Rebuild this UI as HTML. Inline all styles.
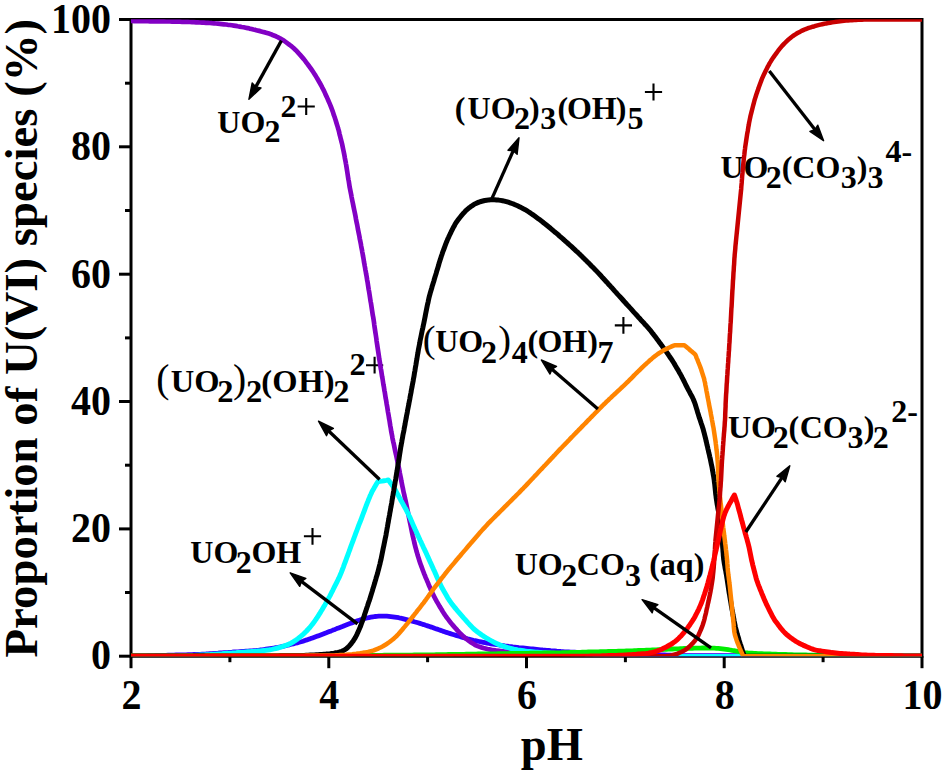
<!DOCTYPE html>
<html><head><meta charset="utf-8"><title>U(VI) speciation</title>
<style>html,body{margin:0;padding:0;background:#fff;}svg{display:block;font-family:"Liberation Serif",serif;}</style>
</head><body>
<svg width="945" height="774" viewBox="0 0 945 774">
<defs><clipPath id="plot"><rect x="131" y="19.3" width="791" height="637.0"/></clipPath></defs>
<rect width="945" height="774" fill="#fff"/>
<g stroke="#000" stroke-width="3" fill="none" stroke-linecap="square">
<path d="M131.0 19.5 H922.0 V656.2 H131.0 Z"/>
<line x1="119.0" y1="656.2" x2="131.0" y2="656.2" stroke-linecap="butt"/>
<line x1="125.0" y1="592.5" x2="131.0" y2="592.5" stroke-linecap="butt"/>
<line x1="119.0" y1="528.9" x2="131.0" y2="528.9" stroke-linecap="butt"/>
<line x1="125.0" y1="465.2" x2="131.0" y2="465.2" stroke-linecap="butt"/>
<line x1="119.0" y1="401.5" x2="131.0" y2="401.5" stroke-linecap="butt"/>
<line x1="125.0" y1="337.9" x2="131.0" y2="337.9" stroke-linecap="butt"/>
<line x1="119.0" y1="274.2" x2="131.0" y2="274.2" stroke-linecap="butt"/>
<line x1="125.0" y1="210.5" x2="131.0" y2="210.5" stroke-linecap="butt"/>
<line x1="119.0" y1="146.8" x2="131.0" y2="146.8" stroke-linecap="butt"/>
<line x1="125.0" y1="83.2" x2="131.0" y2="83.2" stroke-linecap="butt"/>
<line x1="119.0" y1="19.5" x2="131.0" y2="19.5" stroke-linecap="butt"/>
<line x1="131.0" y1="656.2" x2="131.0" y2="668.2" stroke-linecap="butt"/>
<line x1="229.9" y1="656.2" x2="229.9" y2="662.2" stroke-linecap="butt"/>
<line x1="328.8" y1="656.2" x2="328.8" y2="668.2" stroke-linecap="butt"/>
<line x1="427.6" y1="656.2" x2="427.6" y2="662.2" stroke-linecap="butt"/>
<line x1="526.5" y1="656.2" x2="526.5" y2="668.2" stroke-linecap="butt"/>
<line x1="625.4" y1="656.2" x2="625.4" y2="662.2" stroke-linecap="butt"/>
<line x1="724.2" y1="656.2" x2="724.2" y2="668.2" stroke-linecap="butt"/>
<line x1="823.1" y1="656.2" x2="823.1" y2="662.2" stroke-linecap="butt"/>
<line x1="922.0" y1="656.2" x2="922.0" y2="668.2" stroke-linecap="butt"/>
</g>
<g font-family="Liberation Serif" font-weight="bold" fill="#000">
<text x="217.30" y="133.30" font-size="32.00">UO</text><text x="264.56" y="141.80" font-size="32.00">2</text><text x="280.46" y="117.30" font-size="32.00">2</text><path d="M297.6 106.5 h17.2 M306.2 98.1 v16.8" stroke="#000" stroke-width="2.1" fill="none"/>
<text x="156.36" y="391.60" font-size="39.65" font-weight="normal">(</text><text x="170.69" y="391.60" font-size="32.50">UO</text><text x="217.14" y="402.10" font-size="32.50">2</text><text x="233.12" y="391.60" font-size="39.65" font-weight="normal">)</text><text x="246.04" y="402.10" font-size="32.50">2</text><text x="261.37" y="391.60" font-size="32.50">(</text><text x="272.31" y="391.60" font-size="32.50">O</text><text x="298.14" y="391.60" font-size="32.50">H</text><text x="323.65" y="391.60" font-size="32.50">)</text><text x="333.34" y="402.10" font-size="32.50">2</text><text x="349.44" y="375.00" font-size="32.50">2</text><path d="M366.0 365.2 h17.2 M374.6 356.8 v16.8" stroke="#000" stroke-width="2.1" fill="none"/>
<text x="190.30" y="562.90" font-size="32.00">UO</text><text x="235.76" y="573.20" font-size="32.00">2</text><text x="251.44" y="562.90" font-size="32.00">OH</text><path d="M303.9 536.3 h17.2 M312.5 527.9 v16.8" stroke="#000" stroke-width="2.1" fill="none"/>
<text x="454.79" y="118.60" font-size="32.00">(</text><text x="467.60" y="118.60" font-size="32.00">UO</text><text x="514.06" y="128.80" font-size="32.00">2</text><text x="528.97" y="118.60" font-size="32.00">)</text><text x="540.20" y="128.80" font-size="32.00">3</text><text x="557.59" y="118.60" font-size="32.00">(</text><text x="567.04" y="118.60" font-size="32.00">O</text><text x="591.65" y="118.60" font-size="32.00">H</text><text x="615.77" y="118.60" font-size="32.00">)</text><text x="627.62" y="128.80" font-size="32.00">5</text><path d="M644.9 92.0 h17.2 M653.5 83.6 v16.8" stroke="#000" stroke-width="2.1" fill="none"/>
<text x="422.81" y="351.90" font-size="38.40" font-weight="normal">(</text><text x="435.20" y="351.90" font-size="32.00">UO</text><text x="481.06" y="362.70" font-size="32.00">2</text><text x="498.16" y="351.90" font-size="38.40" font-weight="normal">)</text><text x="511.66" y="362.70" font-size="32.00">4</text><text x="527.59" y="351.90" font-size="32.00">(</text><text x="537.44" y="351.90" font-size="32.00">O</text><text x="562.35" y="351.90" font-size="32.00">H</text><text x="587.27" y="351.90" font-size="32.00">)</text><text x="597.57" y="362.70" font-size="32.00">7</text><path d="M614.8 325.4 h17.2 M623.4 317.0 v16.8" stroke="#000" stroke-width="2.1" fill="none"/>
<text x="514.70" y="575.00" font-size="32.00">UO</text><text x="561.36" y="586.10" font-size="32.00">2</text><text x="576.84" y="575.00" font-size="32.00">CO</text><text x="624.90" y="586.10" font-size="32.00">3</text><text x="649.19" y="575.00" font-size="32.00">(</text><text x="659.85" y="575.00" font-size="32.00">aq</text><text x="693.65" y="575.00" font-size="32.00">)</text>
<text x="727.90" y="437.60" font-size="32.00">UO</text><text x="772.86" y="448.10" font-size="32.00">2</text><text x="788.59" y="437.60" font-size="32.00">(</text><text x="799.64" y="437.60" font-size="32.00">CO</text><text x="847.60" y="448.10" font-size="32.00">3</text><text x="863.67" y="437.60" font-size="32.00">)</text><text x="872.66" y="448.10" font-size="32.00">2</text><text x="891.16" y="421.80" font-size="32.00">2-</text>
<text x="720.50" y="178.20" font-size="32.00">UO</text><text x="765.76" y="188.40" font-size="32.00">2</text><text x="781.69" y="178.20" font-size="32.00">(</text><text x="792.35" y="178.20" font-size="32.00">CO</text><text x="840.80" y="188.40" font-size="32.00">3</text><text x="856.80" y="178.20" font-size="32.00">)</text><text x="867.50" y="188.40" font-size="32.00">3</text><text x="885.46" y="162.30" font-size="32.00">4-</text>
</g>
<g fill="none" stroke-linejoin="round" stroke-linecap="round" clip-path="url(#plot)">
<path d="M130.0 656.2 L132.0 656.1 L134.0 656.1 L136.0 656.0 L138.0 656.0 L140.0 655.9 L142.0 655.9 L144.0 655.8 L146.0 655.8 L148.0 655.7 L150.0 655.7 L152.0 655.6 L154.0 655.6 L156.0 655.5 L158.0 655.5 L160.0 655.4 L162.0 655.4 L164.0 655.3 L166.0 655.3 L168.0 655.2 L170.0 655.2 L172.0 655.1 L174.0 655.1 L176.0 655.0 L178.0 655.0 L180.0 654.9 L182.0 654.9 L184.0 654.8 L186.0 654.8 L188.0 654.7 L190.0 654.7 L192.1 654.6 L194.1 654.5 L196.1 654.5 L198.1 654.4 L200.1 654.3 L202.1 654.2 L204.1 654.1 L206.0 654.0 L208.0 653.8 L210.0 653.7 L212.0 653.6 L214.0 653.4 L216.0 653.3 L218.0 653.2 L220.0 653.0 L222.0 652.9 L224.0 652.7 L226.0 652.6 L228.0 652.5 L230.0 652.3 L232.0 652.2 L234.0 652.0 L236.0 651.9 L238.0 651.8 L240.0 651.6 L242.0 651.5 L244.0 651.4 L246.0 651.2 L248.0 651.1 L250.0 650.9 L252.0 650.8 L254.0 650.6 L256.0 650.5 L258.0 650.3 L260.0 650.0 L261.9 649.8 L263.9 649.5 L265.9 649.2 L267.9 648.9 L269.9 648.6 L271.8 648.3 L273.8 648.0 L275.8 647.7 L277.8 647.4 L279.7 647.0 L281.7 646.6 L283.7 646.2 L285.6 645.7 L287.6 645.2 L289.5 644.8 L291.4 644.3 L293.4 643.8 L295.3 643.3 L297.3 642.8 L299.2 642.3 L301.1 641.8 L303.0 641.2 L304.9 640.5 L306.8 639.9 L308.7 639.2 L310.6 638.6 L312.5 637.9 L314.4 637.2 L316.3 636.5 L318.1 635.9 L320.0 635.2 L321.9 634.5 L323.8 633.8 L325.6 633.1 L327.5 632.3 L329.4 631.6 L331.2 630.9 L333.1 630.1 L335.0 629.4 L336.8 628.6 L338.7 627.9 L340.5 627.2 L342.4 626.5 L344.3 625.7 L346.1 625.0 L348.0 624.3 L349.9 623.6 L351.8 622.9 L353.6 622.2 L355.5 621.5 L357.4 620.8 L359.3 620.2 L361.2 619.6 L363.1 619.0 L365.0 618.5 L367.0 618.0 L368.9 617.6 L370.9 617.2 L372.9 616.8 L374.8 616.5 L376.8 616.3 L378.8 616.2 L380.8 616.1 L382.8 616.1 L384.8 616.1 L386.8 616.2 L388.8 616.4 L390.8 616.6 L392.8 616.8 L394.7 617.1 L396.7 617.4 L398.7 617.7 L400.6 618.2 L402.6 618.6 L404.5 619.1 L406.5 619.6 L408.4 620.1 L410.3 620.6 L412.3 621.1 L414.2 621.7 L416.1 622.2 L418.0 622.8 L419.9 623.4 L421.8 624.0 L423.7 624.6 L425.7 625.3 L427.6 625.9 L429.5 626.5 L431.3 627.1 L433.2 627.8 L435.1 628.5 L437.0 629.1 L438.9 629.8 L440.8 630.4 L442.7 631.1 L444.6 631.7 L446.5 632.4 L448.4 633.0 L450.3 633.6 L452.2 634.2 L454.1 634.8 L456.0 635.4 L458.0 636.0 L459.9 636.5 L461.8 637.1 L463.7 637.7 L465.6 638.2 L467.6 638.8 L469.5 639.3 L471.4 639.8 L473.4 640.3 L475.3 640.7 L477.3 641.1 L479.2 641.5 L481.2 641.9 L483.2 642.3 L485.1 642.7 L487.1 643.1 L489.1 643.5 L491.0 643.8 L493.0 644.1 L495.0 644.4 L497.0 644.7 L499.0 645.0 L500.9 645.3 L502.9 645.6 L504.9 645.9 L506.9 646.1 L508.9 646.4 L510.9 646.6 L512.8 646.9 L514.8 647.1 L516.8 647.3 L518.8 647.6 L520.8 647.8 L522.8 648.0 L524.8 648.2 L526.8 648.4 L528.8 648.6 L530.8 648.8 L532.8 649.0 L534.7 649.2 L536.7 649.4 L538.7 649.6 L540.7 649.8 L542.7 650.0 L544.7 650.1 L546.7 650.3 L548.7 650.5 L550.7 650.7 L552.7 650.8 L554.7 651.0 L556.7 651.2 L558.7 651.3 L560.7 651.5 L562.7 651.6 L564.7 651.8 L566.7 651.9 L568.7 652.0 L570.7 652.1 L572.7 652.1 L574.7 652.2 L576.7 652.3 L578.7 652.4 L580.7 652.5 L582.7 652.5 L584.7 652.6 L586.7 652.7 L588.7 652.8 L590.7 652.8 L592.7 652.9 L594.7 653.0 L596.7 653.1 L598.7 653.2 L600.7 653.2 L602.7 653.3 L604.7 653.4 L606.7 653.5 L608.7 653.6 L610.7 653.6 L612.7 653.7 L614.7 653.8 L616.7 653.9 L618.7 653.9 L620.7 654.0 L622.7 654.0 L624.7 654.1 L626.7 654.1 L628.7 654.2 L630.7 654.2 L632.7 654.3 L634.7 654.3 L636.7 654.3 L638.7 654.4 L640.7 654.4 L642.7 654.5 L644.7 654.5 L646.7 654.5 L648.7 654.6 L650.7 654.6 L652.7 654.7 L654.7 654.7 L656.7 654.7 L658.7 654.8 L660.7 654.9 L662.7 654.9 L664.7 655.0 L666.7 655.1 L668.7 655.1 L670.7 655.2 L672.7 655.3 L674.7 655.4 L676.7 655.5 L678.7 655.5 L680.7 655.5 L682.7 655.6 L684.7 655.6 L686.7 655.6 L688.7 655.6 L690.7 655.6 L692.7 655.6 L694.7 655.6 L696.7 655.6 L698.7 655.6 L700.8 655.6 L702.8 655.6 L704.8 655.6 L706.8 655.6 L708.8 655.6 L710.8 655.6 L712.8 655.6 L714.8 655.6 L716.8 655.6 L718.8 655.6 L720.8 655.6 L722.8 655.6 L724.8 655.6 L726.8 655.6 L728.8 655.6 L730.8 655.6 L732.8 655.6 L734.8 655.6 L736.8 655.6 L738.8 655.6 L740.8 655.6 L742.8 655.6 L744.8 655.6 L746.8 655.6 L748.8 655.7 L750.8 655.7 L752.8 655.7 L754.8 655.7 L756.8 655.8 L758.8 655.8 L760.8 655.8 L762.8 655.8 L764.8 655.9 L766.8 655.9 L768.8 655.9 L770.8 655.9 L772.8 656.0 L774.8 656.0 L776.8 656.0 L778.8 656.1 L780.8 656.1 L782.8 656.1 L784.8 656.1 L786.8 656.2 L788.8 656.2 L790.9 656.2 L792.9 656.2 L794.9 656.2 L796.9 656.2 L798.9 656.2 L800.9 656.2 L802.9 656.2 L804.9 656.2 L806.9 656.2 L808.9 656.2 L810.9 656.2 L812.9 656.2 L814.9 656.2 L816.9 656.2 L818.9 656.2 L820.9 656.2 L822.9 656.2 L824.9 656.2 L826.9 656.2 L828.9 656.2 L830.9 656.2 L832.9 656.2 L834.9 656.2 L836.9 656.2 L838.9 656.2 L840.9 656.2 L842.9 656.2 L844.9 656.2 L846.9 656.2 L848.9 656.2 L850.9 656.2 L852.9 656.2 L854.9 656.2 L856.9 656.2 L858.9 656.2 L860.9 656.2 L862.9 656.2 L864.9 656.2 L866.9 656.2 L868.9 656.2 L870.9 656.2 L872.9 656.2 L874.9 656.2 L876.9 656.2 L879.0 656.2 L881.0 656.2 L883.0 656.2 L885.0 656.2 L887.0 656.2 L889.0 656.2 L891.0 656.2 L893.0 656.2 L895.0 656.2 L897.0 656.2 L899.0 656.2 L901.0 656.2 L903.0 656.2 L905.0 656.2 L907.0 656.2 L909.0 656.2 L911.0 656.2 L913.0 656.2 L915.0 656.2 L917.0 656.2 L919.0 656.2 L921.0 656.2" stroke="#3000ff" stroke-width="4.8"/>
<path d="M130.0 21.0 L132.0 21.0 L134.0 21.1 L136.0 21.1 L138.0 21.1 L140.0 21.1 L142.0 21.2 L144.0 21.2 L146.0 21.2 L148.0 21.2 L150.0 21.3 L152.0 21.3 L154.0 21.3 L156.0 21.3 L158.0 21.4 L160.0 21.4 L162.0 21.4 L164.0 21.4 L166.0 21.5 L168.0 21.5 L170.0 21.5 L172.0 21.6 L174.0 21.6 L176.0 21.6 L178.0 21.7 L180.0 21.7 L182.0 21.8 L184.0 21.8 L186.0 21.9 L188.0 21.9 L190.0 22.0 L192.0 22.1 L194.0 22.2 L196.0 22.3 L198.0 22.4 L200.0 22.5 L202.0 22.6 L204.0 22.7 L206.0 22.8 L208.0 22.9 L210.0 23.0 L212.0 23.2 L214.0 23.3 L216.0 23.5 L217.9 23.7 L219.9 23.9 L221.9 24.1 L223.9 24.3 L225.9 24.5 L227.9 24.8 L229.9 25.0 L231.8 25.3 L233.8 25.6 L235.8 25.9 L237.8 26.3 L239.7 26.6 L241.7 27.0 L243.7 27.3 L245.6 27.7 L247.6 28.1 L249.5 28.6 L251.5 29.0 L253.4 29.5 L255.4 29.9 L257.3 30.4 L259.3 30.9 L261.2 31.4 L263.1 31.9 L265.1 32.4 L267.0 33.0 L268.9 33.6 L270.8 34.2 L272.6 35.0 L274.5 35.7 L276.3 36.5 L278.1 37.4 L279.9 38.3 L281.6 39.3 L283.3 40.3 L284.9 41.4 L286.6 42.6 L288.2 43.8 L289.8 45.0 L291.3 46.2 L292.9 47.5 L294.3 48.8 L295.8 50.2 L297.2 51.7 L298.5 53.1 L299.9 54.6 L301.2 56.1 L302.5 57.6 L303.8 59.1 L305.0 60.7 L306.2 62.3 L307.4 63.9 L308.6 65.5 L309.8 67.1 L310.9 68.7 L312.1 70.4 L313.2 72.0 L314.3 73.7 L315.4 75.4 L316.4 77.1 L317.4 78.8 L318.4 80.5 L319.4 82.3 L320.4 84.0 L321.4 85.8 L322.3 87.6 L323.2 89.3 L324.1 91.1 L324.9 92.9 L325.7 94.8 L326.6 96.6 L327.4 98.4 L328.2 100.2 L329.0 102.1 L329.8 103.9 L330.6 105.8 L331.3 107.6 L332.0 109.5 L332.7 111.4 L333.3 113.3 L333.9 115.2 L334.6 117.0 L335.2 118.9 L335.8 120.8 L336.4 122.8 L337.0 124.7 L337.6 126.6 L338.1 128.5 L338.7 130.4 L339.2 132.4 L339.6 134.3 L340.1 136.2 L340.6 138.2 L341.1 140.1 L341.6 142.1 L342.1 144.0 L342.5 146.0 L342.9 147.9 L343.3 149.9 L343.7 151.8 L344.1 153.8 L344.5 155.8 L344.8 157.7 L345.2 159.7 L345.6 161.7 L345.9 163.6 L346.3 165.6 L346.6 167.6 L346.9 169.6 L347.2 171.5 L347.5 173.5 L347.8 175.5 L348.1 177.5 L348.4 179.4 L348.8 181.4 L349.1 183.4 L349.4 185.4 L349.7 187.3 L350.1 189.3 L350.5 191.3 L350.9 193.2 L351.3 195.2 L351.6 197.1 L352.0 199.1 L352.4 201.1 L352.8 203.0 L353.2 205.0 L353.6 207.0 L354.0 208.9 L354.4 210.9 L354.8 212.8 L355.2 214.8 L355.6 216.8 L355.9 218.7 L356.3 220.7 L356.7 222.7 L357.1 224.6 L357.5 226.6 L357.8 228.5 L358.2 230.5 L358.6 232.5 L359.0 234.4 L359.4 236.4 L359.7 238.4 L360.1 240.3 L360.5 242.3 L360.9 244.3 L361.2 246.2 L361.6 248.2 L362.0 250.2 L362.3 252.1 L362.7 254.1 L363.0 256.1 L363.4 258.0 L363.7 260.0 L364.0 262.0 L364.4 263.9 L364.7 265.9 L365.1 267.9 L365.4 269.9 L365.8 271.8 L366.1 273.8 L366.5 275.8 L366.8 277.7 L367.1 279.7 L367.5 281.7 L367.8 283.7 L368.1 285.6 L368.4 287.6 L368.7 289.6 L369.1 291.6 L369.4 293.5 L369.7 295.5 L370.0 297.5 L370.3 299.5 L370.6 301.4 L371.0 303.4 L371.3 305.4 L371.6 307.4 L371.9 309.3 L372.2 311.3 L372.5 313.3 L372.8 315.3 L373.2 317.2 L373.5 319.2 L373.8 321.2 L374.1 323.2 L374.3 325.1 L374.6 327.1 L374.9 329.1 L375.2 331.1 L375.5 333.1 L375.8 335.0 L376.1 337.0 L376.4 339.0 L376.6 341.0 L376.9 343.0 L377.2 344.9 L377.5 346.9 L377.8 348.9 L378.1 350.9 L378.4 352.9 L378.7 354.8 L379.0 356.8 L379.2 358.8 L379.6 360.8 L379.9 362.7 L380.2 364.7 L380.5 366.7 L380.8 368.7 L381.2 370.6 L381.5 372.6 L381.8 374.6 L382.1 376.6 L382.5 378.5 L382.8 380.5 L383.1 382.5 L383.4 384.5 L383.8 386.4 L384.1 388.4 L384.4 390.4 L384.8 392.3 L385.1 394.3 L385.4 396.3 L385.7 398.3 L386.1 400.2 L386.4 402.2 L386.7 404.2 L387.1 406.2 L387.4 408.1 L387.7 410.1 L388.0 412.1 L388.4 414.1 L388.7 416.0 L389.0 418.0 L389.4 420.0 L389.7 421.9 L390.0 423.9 L390.3 425.9 L390.7 427.9 L391.0 429.8 L391.3 431.8 L391.7 433.8 L392.1 435.7 L392.4 437.7 L392.8 439.7 L393.2 441.6 L393.7 443.6 L394.1 445.5 L394.5 447.5 L394.9 449.5 L395.3 451.4 L395.7 453.4 L396.2 455.3 L396.6 457.3 L397.0 459.2 L397.4 461.2 L397.8 463.1 L398.2 465.1 L398.7 467.1 L399.1 469.0 L399.5 471.0 L399.8 472.9 L400.2 474.9 L400.6 476.9 L401.0 478.8 L401.3 480.8 L401.7 482.8 L402.1 484.7 L402.5 486.7 L402.9 488.6 L403.3 490.6 L403.7 492.6 L404.2 494.5 L404.6 496.5 L405.0 498.4 L405.5 500.4 L405.9 502.3 L406.3 504.3 L406.7 506.2 L407.1 508.2 L407.5 510.2 L407.9 512.1 L408.3 514.1 L408.7 516.0 L409.1 518.0 L409.5 520.0 L409.9 521.9 L410.3 523.9 L410.7 525.8 L411.1 527.8 L411.5 529.8 L411.9 531.7 L412.3 533.7 L412.7 535.6 L413.2 537.6 L413.6 539.5 L414.1 541.5 L414.5 543.4 L415.0 545.4 L415.5 547.3 L416.0 549.2 L416.5 551.2 L417.1 553.1 L417.6 555.0 L418.2 556.9 L418.8 558.8 L419.4 560.7 L420.0 562.6 L420.7 564.5 L421.4 566.4 L422.1 568.3 L422.8 570.2 L423.5 572.0 L424.2 573.9 L425.0 575.7 L425.7 577.6 L426.5 579.4 L427.3 581.3 L428.1 583.1 L428.8 585.0 L429.6 586.8 L430.4 588.6 L431.2 590.5 L432.1 592.3 L432.9 594.1 L433.8 595.9 L434.7 597.7 L435.6 599.4 L436.6 601.2 L437.6 602.9 L438.6 604.6 L439.6 606.4 L440.7 608.1 L441.7 609.8 L442.7 611.5 L443.8 613.2 L444.9 614.9 L446.0 616.5 L447.2 618.1 L448.4 619.7 L449.6 621.3 L450.9 622.9 L452.1 624.4 L453.4 625.9 L454.7 627.4 L456.1 628.9 L457.4 630.4 L458.8 631.9 L460.2 633.3 L461.6 634.7 L463.0 636.1 L464.5 637.4 L466.0 638.7 L467.6 639.9 L469.2 641.1 L470.8 642.2 L472.5 643.3 L474.2 644.4 L475.9 645.3 L477.7 646.1 L479.6 646.8 L481.5 647.4 L483.4 648.0 L485.3 648.5 L487.3 649.0 L489.2 649.4 L491.1 649.8 L493.1 650.2 L495.1 650.4 L497.1 650.7 L499.1 650.9 L501.1 651.1 L503.0 651.3 L505.0 651.5 L507.0 651.6 L509.0 651.8 L511.0 651.9 L513.0 652.0 L515.0 652.1 L517.0 652.1 L519.0 652.2 L521.0 652.3 L523.0 652.3 L525.0 652.4 L527.0 652.5 L529.0 652.6 L531.0 652.6 L533.0 652.7 L535.0 652.7 L537.0 652.8 L539.0 652.8 L541.0 652.9 L543.0 652.9 L545.0 653.0 L547.0 653.0 L549.0 653.1 L551.0 653.1 L553.0 653.2 L555.0 653.2 L557.0 653.3 L559.0 653.3 L561.0 653.4 L563.0 653.4 L565.0 653.5 L567.0 653.6 L569.0 653.6 L571.0 653.7 L573.0 653.7 L575.0 653.8 L577.0 653.8 L579.0 653.9 L581.0 653.9 L583.0 654.0 L585.0 654.0 L587.0 654.1 L589.0 654.1 L591.0 654.2 L593.0 654.2 L595.0 654.3 L597.0 654.3 L599.0 654.4 L601.0 654.4 L603.0 654.5 L605.0 654.6 L607.0 654.6 L609.0 654.7 L611.0 654.7 L613.0 654.8 L615.0 654.8 L617.0 654.9 L619.0 655.0 L621.0 655.0 L623.0 655.1 L625.0 655.1 L627.0 655.2 L629.0 655.3 L631.0 655.3 L633.0 655.4 L635.0 655.4 L637.0 655.5 L639.0 655.6 L641.0 655.6 L643.0 655.7 L645.0 655.7 L647.0 655.8 L649.0 655.9 L651.0 655.9 L653.0 656.0 L655.0 656.0 L657.0 656.1 L659.0 656.1 L661.0 656.2 L663.0 656.2 L665.0 656.2 L667.0 656.2 L669.0 656.2 L671.0 656.2 L673.0 656.2 L675.0 656.2 L677.0 656.2 L679.0 656.2 L681.0 656.2 L683.0 656.2 L685.0 656.2 L687.0 656.2 L689.0 656.2 L691.0 656.2 L693.0 656.2 L695.0 656.2 L697.0 656.2 L699.0 656.2 L701.0 656.2 L703.0 656.2 L705.0 656.2 L707.0 656.2 L709.0 656.2 L711.0 656.2 L713.0 656.2 L715.0 656.2 L717.0 656.2 L719.0 656.2 L721.0 656.2 L723.0 656.2 L725.0 656.2 L727.0 656.2 L729.0 656.2 L731.0 656.2 L733.0 656.2 L735.0 656.2 L737.0 656.2 L739.0 656.2 L741.0 656.2 L743.0 656.2 L745.0 656.2 L747.0 656.2 L749.0 656.2 L751.0 656.2 L753.0 656.2 L755.0 656.2 L757.0 656.2 L759.0 656.2 L761.0 656.2 L763.0 656.2 L765.0 656.2 L767.0 656.2 L769.0 656.2 L771.0 656.2 L773.0 656.2 L775.0 656.2 L777.0 656.2 L779.0 656.2 L781.0 656.2 L783.0 656.2 L785.0 656.2 L787.0 656.2 L789.0 656.2 L791.0 656.2 L793.0 656.2 L795.0 656.2 L797.0 656.2 L799.0 656.2 L801.0 656.2 L803.0 656.2 L805.0 656.2 L807.0 656.2 L809.0 656.2 L811.0 656.2 L813.0 656.2 L815.0 656.2 L817.0 656.2 L819.0 656.2 L821.0 656.2 L823.0 656.2 L825.0 656.2 L827.0 656.2 L829.0 656.2 L831.0 656.2 L833.0 656.2 L835.0 656.2 L837.0 656.2 L839.0 656.2 L841.0 656.2 L843.0 656.2 L845.0 656.2 L847.0 656.2 L849.0 656.2 L851.0 656.2 L853.0 656.2 L855.0 656.2 L857.0 656.2 L859.0 656.2 L861.0 656.2 L863.0 656.2 L865.0 656.2 L867.0 656.2 L869.0 656.2 L871.0 656.2 L873.0 656.2 L875.0 656.2 L877.0 656.2 L879.0 656.2 L881.0 656.2 L883.0 656.2 L885.0 656.2 L887.0 656.2 L889.0 656.2 L891.0 656.2 L893.0 656.2 L895.0 656.2 L897.0 656.2 L899.0 656.2 L901.0 656.2 L903.0 656.2 L905.0 656.2 L907.0 656.2 L909.0 656.2 L911.0 656.2 L913.0 656.2 L915.0 656.2 L917.0 656.2 L919.0 656.2 L921.0 656.2 L923.0 656.2" stroke="#8200c4" stroke-width="4.7"/>
<path d="M130.0 656.2 L132.0 656.2 L134.0 656.2 L136.0 656.2 L138.0 656.2 L140.0 656.2 L142.0 656.2 L144.0 656.2 L146.0 656.2 L148.0 656.2 L150.0 656.2 L152.0 656.2 L154.0 656.2 L156.0 656.2 L158.0 656.2 L160.1 656.2 L162.1 656.2 L164.1 656.2 L166.1 656.2 L168.1 656.2 L170.1 656.2 L172.1 656.2 L174.1 656.2 L176.1 656.2 L178.1 656.2 L180.1 656.1 L182.1 656.0 L184.1 656.0 L186.1 655.9 L188.1 655.8 L190.1 655.7 L192.1 655.6 L194.1 655.4 L196.1 655.3 L198.1 655.2 L200.1 655.1 L202.1 655.0 L204.1 654.9 L206.1 654.8 L208.1 654.7 L210.1 654.6 L212.1 654.4 L214.1 654.3 L216.1 654.2 L218.1 654.0 L220.1 653.9 L222.1 653.8 L224.1 653.6 L226.1 653.5 L228.1 653.3 L230.1 653.2 L232.1 653.1 L234.1 652.9 L236.1 652.8 L238.1 652.6 L240.1 652.5 L242.1 652.3 L244.1 652.2 L246.1 652.0 L248.1 651.8 L250.1 651.7 L252.1 651.5 L254.1 651.4 L256.1 651.2 L258.1 651.0 L260.0 650.9 L262.0 650.7 L264.0 650.5 L266.0 650.3 L268.0 650.1 L270.0 649.7 L271.9 649.4 L273.9 648.9 L275.8 648.5 L277.8 648.0 L279.7 647.4 L281.6 646.8 L283.5 646.2 L285.4 645.5 L287.3 644.8 L289.1 644.1 L290.9 643.2 L292.6 642.3 L294.3 641.2 L296.0 640.1 L297.6 638.9 L299.1 637.7 L300.7 636.4 L302.2 635.1 L303.7 633.8 L305.1 632.4 L306.6 631.0 L307.9 629.5 L309.3 628.1 L310.6 626.5 L311.8 625.0 L313.1 623.4 L314.2 621.8 L315.4 620.1 L316.5 618.5 L317.6 616.8 L318.7 615.1 L319.8 613.4 L320.8 611.7 L321.9 610.0 L322.9 608.3 L323.9 606.6 L324.9 604.9 L325.9 603.1 L326.9 601.4 L327.9 599.6 L328.8 597.9 L329.8 596.1 L330.7 594.3 L331.6 592.5 L332.5 590.8 L333.4 589.0 L334.3 587.2 L335.2 585.4 L336.1 583.6 L337.0 581.8 L337.9 580.0 L338.8 578.2 L339.6 576.4 L340.4 574.5 L341.2 572.7 L341.9 570.8 L342.6 569.0 L343.4 567.1 L344.0 565.2 L344.7 563.3 L345.4 561.5 L346.1 559.6 L346.8 557.7 L347.5 555.8 L348.2 553.9 L348.9 552.0 L349.6 550.2 L350.2 548.3 L350.9 546.4 L351.6 544.5 L352.3 542.6 L353.0 540.8 L353.7 538.9 L354.4 537.0 L355.1 535.1 L355.8 533.2 L356.5 531.4 L357.2 529.5 L357.9 527.6 L358.6 525.7 L359.3 523.9 L360.1 522.0 L360.8 520.1 L361.5 518.3 L362.2 516.4 L362.9 514.5 L363.6 512.6 L364.3 510.8 L365.0 508.9 L365.7 507.0 L366.4 505.1 L367.1 503.3 L367.9 501.4 L368.6 499.5 L369.4 497.7 L370.1 495.8 L371.0 494.0 L371.8 492.2 L372.7 490.4 L373.7 488.7 L374.7 486.9 L375.7 485.2 L376.7 483.5 L377.8 481.8 L379.9 481.4 L382.0 481.1 L384.1 480.7 L386.2 480.4 L388.3 480.0 L389.5 481.6 L390.7 483.2 L391.9 484.8 L393.0 486.5 L394.1 488.1 L395.2 489.8 L396.2 491.6 L397.1 493.3 L398.1 495.1 L399.0 496.8 L400.0 498.6 L400.9 500.4 L401.9 502.1 L402.9 503.9 L403.8 505.6 L404.8 507.4 L405.8 509.1 L406.7 510.9 L407.6 512.7 L408.5 514.5 L409.4 516.3 L410.2 518.1 L411.0 519.9 L411.8 521.7 L412.6 523.6 L413.4 525.4 L414.2 527.3 L415.0 529.1 L415.9 530.9 L416.7 532.7 L417.5 534.6 L418.4 536.4 L419.2 538.2 L420.0 540.0 L420.9 541.8 L421.7 543.6 L422.6 545.5 L423.4 547.3 L424.3 549.1 L425.1 550.9 L426.0 552.7 L426.8 554.5 L427.6 556.4 L428.5 558.2 L429.3 560.0 L430.1 561.8 L431.0 563.6 L431.8 565.5 L432.6 567.3 L433.4 569.1 L434.3 570.9 L435.1 572.8 L435.9 574.6 L436.7 576.4 L437.5 578.3 L438.3 580.1 L439.2 581.9 L440.0 583.7 L440.9 585.5 L441.8 587.3 L442.7 589.1 L443.7 590.8 L444.7 592.6 L445.7 594.3 L446.7 596.0 L447.7 597.8 L448.8 599.5 L449.9 601.1 L451.0 602.7 L452.2 604.3 L453.5 605.9 L454.7 607.5 L456.0 609.0 L457.3 610.6 L458.6 612.1 L459.9 613.6 L461.2 615.1 L462.5 616.6 L463.8 618.1 L465.2 619.6 L466.5 621.1 L467.8 622.6 L469.2 624.1 L470.5 625.6 L471.9 627.0 L473.3 628.4 L474.8 629.8 L476.3 631.0 L477.9 632.3 L479.5 633.4 L481.2 634.6 L482.8 635.7 L484.5 636.8 L486.2 637.9 L487.9 638.9 L489.6 639.9 L491.4 640.9 L493.1 641.8 L494.9 642.7 L496.7 643.6 L498.5 644.4 L500.4 645.2 L502.2 645.9 L504.1 646.5 L506.0 647.1 L508.0 647.7 L509.9 648.2 L511.8 648.6 L513.8 649.1 L515.7 649.5 L517.7 649.9 L519.7 650.2 L521.7 650.5 L523.6 650.8 L525.6 651.1 L527.6 651.4 L529.6 651.6 L531.6 651.8 L533.6 652.0 L535.6 652.2 L537.6 652.3 L539.6 652.4 L541.6 652.6 L543.6 652.7 L545.6 652.8 L547.6 653.0 L549.5 653.1 L551.5 653.2 L553.5 653.3 L555.5 653.4 L557.5 653.5 L559.5 653.6 L561.6 653.6 L563.6 653.7 L565.6 653.7 L567.6 653.8 L569.6 653.8 L571.6 653.9 L573.6 653.9 L575.6 654.0 L577.6 654.0 L579.6 654.0 L581.6 654.1 L583.6 654.1 L585.6 654.2 L587.6 654.2 L589.6 654.3 L591.6 654.3 L593.6 654.4 L595.6 654.4 L597.6 654.5 L599.6 654.5 L601.6 654.6 L603.6 654.6 L605.6 654.7 L607.6 654.8 L609.6 654.9 L611.6 654.9 L613.6 655.0 L615.6 655.1 L617.6 655.2 L619.6 655.2 L621.6 655.3 L623.6 655.4 L625.6 655.5 L627.6 655.5 L629.6 655.6 L631.6 655.7 L633.6 655.8 L635.6 655.8 L637.6 655.9 L639.6 656.0 L641.6 656.0 L643.6 656.1 L645.6 656.2 L647.6 656.2 L649.6 656.3 L651.6 656.3 L653.6 656.4 L655.6 656.5 L657.6 656.5 L659.6 656.5 L661.6 656.6 L663.6 656.6 L665.6 656.6 L667.7 656.6 L669.7 656.6 L671.7 656.6 L673.7 656.6 L675.7 656.6 L677.7 656.6 L679.7 656.6 L681.7 656.6 L683.7 656.6 L685.7 656.6 L687.7 656.6 L689.7 656.6 L691.7 656.6 L693.7 656.6 L695.7 656.6 L697.7 656.6 L699.7 656.6 L701.7 656.6 L703.7 656.6 L705.7 656.6 L707.7 656.6 L709.7 656.6 L711.7 656.6 L713.7 656.6 L715.7 656.6 L717.7 656.6 L719.7 656.6 L721.7 656.6 L723.7 656.6 L725.7 656.6 L727.7 656.6 L729.7 656.6 L731.7 656.6 L733.7 656.6 L735.7 656.6 L737.7 656.6 L739.7 656.6 L741.8 656.6 L743.8 656.6 L745.8 656.6 L747.8 656.6 L749.8 656.6 L751.8 656.6 L753.8 656.6 L755.8 656.6 L757.8 656.6 L759.8 656.6 L761.8 656.6 L763.8 656.6 L765.8 656.6 L767.8 656.6 L769.8 656.6 L771.8 656.6 L773.8 656.6 L775.8 656.6 L777.8 656.6 L779.8 656.6 L781.8 656.6 L783.8 656.6 L785.8 656.6 L787.8 656.6 L789.8 656.6 L791.8 656.6 L793.8 656.6 L795.8 656.6 L797.8 656.6 L799.8 656.6 L801.8 656.6 L803.8 656.6 L805.8 656.6 L807.8 656.6 L809.8 656.6 L811.8 656.6 L813.9 656.6 L815.9 656.6 L817.9 656.6 L819.9 656.6 L821.9 656.6 L823.9 656.6 L825.9 656.6 L827.9 656.6 L829.9 656.6 L831.9 656.6 L833.9 656.6 L835.9 656.6 L837.9 656.6 L839.9 656.6 L841.9 656.6 L843.9 656.6 L845.9 656.6 L847.9 656.6 L849.9 656.6 L851.9 656.6 L853.9 656.6 L855.9 656.6 L857.9 656.6 L859.9 656.6 L861.9 656.6 L863.9 656.6 L865.9 656.6 L867.9 656.6 L869.9 656.6 L871.9 656.6 L873.9 656.6 L875.9 656.6 L877.9 656.6 L879.9 656.6 L881.9 656.6 L883.9 656.6 L886.0 656.6 L888.0 656.6 L890.0 656.6 L892.0 656.6 L894.0 656.6 L896.0 656.6 L898.0 656.6 L900.0 656.6 L902.0 656.6 L904.0 656.6 L906.0 656.6 L908.0 656.6 L910.0 656.6 L912.0 656.6 L914.0 656.6 L916.0 656.6 L918.0 656.6 L920.0 656.6 L921.0 656.6" stroke="#00ffff" stroke-width="5.0"/>
<path d="M130.0 656.0 L132.0 656.0 L134.0 656.0 L136.0 656.0 L138.0 656.0 L140.0 656.0 L142.0 656.0 L144.0 656.0 L146.0 656.0 L148.0 656.0 L150.0 656.0 L152.0 656.0 L154.0 656.0 L156.0 656.0 L158.0 656.0 L160.0 656.0 L162.0 656.0 L164.0 656.0 L166.0 656.0 L168.0 656.0 L170.0 656.0 L172.0 656.0 L174.0 655.9 L176.0 655.9 L178.0 655.9 L180.0 655.9 L182.0 655.9 L184.0 655.9 L186.0 655.9 L188.0 655.9 L190.0 655.9 L192.0 655.9 L194.0 655.9 L196.0 655.9 L198.0 655.9 L200.1 655.9 L202.1 655.9 L204.1 655.9 L206.1 655.9 L208.1 655.9 L210.1 655.9 L212.1 655.9 L214.1 655.9 L216.1 655.9 L218.1 655.9 L220.1 655.9 L222.1 655.9 L224.1 655.9 L226.1 655.9 L228.1 655.9 L230.1 655.9 L232.1 655.9 L234.1 655.9 L236.1 655.9 L238.1 655.9 L240.1 655.9 L242.1 655.9 L244.1 655.9 L246.1 655.9 L248.1 655.9 L250.1 655.9 L252.1 655.9 L254.1 655.9 L256.1 655.9 L258.1 655.8 L260.1 655.8 L262.1 655.8 L264.1 655.8 L266.1 655.8 L268.1 655.8 L270.1 655.8 L272.1 655.8 L274.1 655.8 L276.1 655.8 L278.1 655.8 L280.1 655.8 L282.1 655.8 L284.1 655.8 L286.1 655.8 L288.1 655.8 L290.1 655.8 L292.1 655.8 L294.1 655.8 L296.1 655.8 L298.1 655.8 L300.1 655.8 L302.1 655.8 L304.1 655.8 L306.1 655.8 L308.1 655.7 L310.1 655.7 L312.1 655.7 L314.1 655.7 L316.1 655.7 L318.1 655.7 L320.1 655.7 L322.1 655.7 L324.1 655.6 L326.1 655.6 L328.1 655.6 L330.1 655.6 L332.1 655.6 L334.1 655.6 L336.1 655.6 L338.1 655.5 L340.2 655.5 L342.2 655.5 L344.2 655.5 L346.2 655.5 L348.2 655.5 L350.2 655.5 L352.2 655.5 L354.2 655.4 L356.2 655.4 L358.2 655.4 L360.2 655.4 L362.2 655.4 L364.2 655.4 L366.2 655.4 L368.2 655.3 L370.2 655.3 L372.2 655.3 L374.2 655.3 L376.2 655.3 L378.2 655.3 L380.2 655.3 L382.2 655.3 L384.2 655.2 L386.2 655.2 L388.2 655.2 L390.2 655.2 L392.2 655.2 L394.2 655.2 L396.2 655.2 L398.2 655.1 L400.2 655.1 L402.2 655.1 L404.2 655.1 L406.2 655.1 L408.2 655.1 L410.2 655.1 L412.2 655.1 L414.2 655.0 L416.2 655.0 L418.2 655.0 L420.2 655.0 L422.2 655.0 L424.2 654.9 L426.2 654.9 L428.2 654.9 L430.2 654.8 L432.2 654.8 L434.2 654.8 L436.2 654.7 L438.2 654.7 L440.2 654.7 L442.2 654.6 L444.2 654.6 L446.2 654.6 L448.2 654.5 L450.2 654.5 L452.2 654.5 L454.2 654.4 L456.2 654.4 L458.2 654.4 L460.2 654.3 L462.2 654.3 L464.2 654.3 L466.2 654.2 L468.2 654.2 L470.2 654.2 L472.2 654.1 L474.2 654.1 L476.2 654.1 L478.2 654.0 L480.2 654.0 L482.2 654.0 L484.2 653.9 L486.2 653.9 L488.2 653.9 L490.2 653.8 L492.2 653.8 L494.3 653.8 L496.3 653.8 L498.3 653.7 L500.3 653.7 L502.3 653.7 L504.3 653.6 L506.3 653.6 L508.3 653.6 L510.3 653.5 L512.3 653.5 L514.3 653.5 L516.3 653.5 L518.3 653.4 L520.3 653.4 L522.3 653.4 L524.3 653.3 L526.3 653.3 L528.3 653.3 L530.3 653.2 L532.3 653.2 L534.3 653.2 L536.3 653.2 L538.3 653.1 L540.3 653.1 L542.3 653.1 L544.3 653.0 L546.3 653.0 L548.3 653.0 L550.3 652.9 L552.3 652.9 L554.3 652.9 L556.3 652.9 L558.3 652.8 L560.3 652.8 L562.3 652.7 L564.3 652.7 L566.3 652.6 L568.3 652.6 L570.3 652.5 L572.3 652.5 L574.3 652.4 L576.3 652.4 L578.3 652.3 L580.3 652.3 L582.3 652.2 L584.3 652.2 L586.3 652.1 L588.3 652.0 L590.3 652.0 L592.3 651.9 L594.3 651.9 L596.3 651.8 L598.3 651.8 L600.3 651.7 L602.3 651.7 L604.3 651.6 L606.3 651.6 L608.3 651.5 L610.3 651.5 L612.3 651.4 L614.3 651.3 L616.3 651.3 L618.3 651.2 L620.3 651.2 L622.3 651.1 L624.3 651.1 L626.3 651.0 L628.3 650.9 L630.3 650.8 L632.3 650.8 L634.3 650.7 L636.3 650.6 L638.3 650.5 L640.3 650.5 L642.3 650.4 L644.3 650.3 L646.3 650.2 L648.3 650.2 L650.3 650.1 L652.3 650.0 L654.3 649.9 L656.3 649.8 L658.3 649.7 L660.3 649.6 L662.3 649.5 L664.3 649.4 L666.3 649.3 L668.3 649.2 L670.3 649.1 L672.3 649.0 L674.3 648.9 L676.3 648.9 L678.3 648.8 L680.3 648.7 L682.3 648.6 L684.3 648.5 L686.3 648.5 L688.3 648.4 L690.3 648.3 L692.3 648.3 L694.3 648.2 L696.3 648.2 L698.3 648.1 L700.3 648.1 L702.3 648.0 L704.3 648.0 L706.3 648.0 L708.3 648.0 L710.3 648.1 L712.3 648.1 L714.3 648.2 L716.3 648.3 L718.3 648.4 L720.3 648.6 L722.3 648.8 L724.3 649.1 L726.2 649.4 L728.2 649.7 L730.2 650.0 L732.2 650.4 L734.1 650.7 L736.1 651.1 L738.1 651.5 L740.0 651.9 L742.0 652.2 L744.0 652.5 L745.9 652.8 L747.9 653.0 L749.9 653.1 L751.9 653.2 L753.9 653.4 L755.9 653.5 L757.9 653.6 L759.9 653.7 L761.9 653.7 L763.9 653.8 L765.9 653.9 L767.9 654.0 L769.9 654.0 L771.9 654.1 L773.9 654.2 L775.9 654.2 L777.9 654.3 L779.9 654.3 L781.9 654.4 L783.9 654.5 L785.9 654.5 L787.9 654.6 L789.9 654.7 L791.9 654.7 L793.9 654.8 L795.9 654.9 L797.9 654.9 L799.9 655.0 L801.9 655.0 L803.9 655.0 L805.9 655.0 L807.9 655.1 L809.9 655.1 L811.9 655.1 L813.9 655.1 L815.9 655.1 L817.9 655.1 L819.9 655.2 L821.9 655.2 L823.9 655.2 L825.9 655.2 L827.9 655.2 L829.9 655.2 L831.9 655.3 L833.9 655.3 L835.9 655.3 L837.9 655.3 L839.9 655.3 L841.9 655.3 L843.9 655.4 L845.9 655.4 L847.9 655.4 L849.9 655.4 L852.0 655.4 L854.0 655.4 L856.0 655.5 L858.0 655.5 L860.0 655.5 L862.0 655.5 L864.0 655.5 L866.0 655.5 L868.0 655.6 L870.0 655.6 L872.0 655.6 L874.0 655.6 L876.0 655.6 L878.0 655.6 L880.0 655.7 L882.0 655.7 L884.0 655.7 L886.0 655.7 L888.0 655.7 L890.0 655.7 L892.0 655.7 L894.0 655.8 L896.0 655.8 L898.0 655.8 L900.0 655.8 L902.0 655.8 L904.0 655.8 L906.0 655.9 L908.0 655.9 L910.0 655.9 L912.0 655.9 L914.0 655.9 L916.0 655.9 L918.0 656.0 L920.0 656.0 L922.0 656.0 L923.0 656.0" stroke="#00ee00" stroke-width="4.8"/>
<path d="M130.0 656.0 L132.0 656.0 L134.0 656.0 L136.0 656.0 L138.0 656.0 L140.0 656.0 L142.0 656.0 L144.0 656.0 L146.0 656.0 L148.0 656.0 L150.0 656.0 L152.0 655.9 L154.0 655.9 L156.0 655.9 L158.0 655.9 L160.0 655.9 L162.0 655.9 L164.0 655.9 L166.0 655.9 L168.0 655.9 L170.0 655.9 L172.0 655.9 L174.0 655.9 L176.0 655.9 L178.0 655.9 L180.0 655.9 L182.0 655.9 L184.0 655.9 L186.0 655.9 L188.0 655.9 L190.0 655.9 L192.0 655.9 L194.0 655.8 L196.0 655.8 L198.0 655.8 L200.0 655.8 L202.0 655.8 L204.0 655.8 L206.0 655.8 L208.0 655.8 L210.0 655.8 L212.0 655.8 L214.0 655.8 L216.0 655.8 L218.0 655.8 L220.0 655.8 L222.0 655.8 L224.0 655.8 L226.0 655.8 L228.0 655.8 L230.0 655.8 L232.0 655.8 L234.0 655.8 L236.0 655.8 L238.0 655.7 L240.0 655.7 L242.0 655.7 L244.1 655.7 L246.1 655.7 L248.1 655.7 L250.1 655.7 L252.1 655.7 L254.1 655.7 L256.1 655.7 L258.1 655.7 L260.1 655.7 L262.1 655.7 L264.1 655.7 L266.1 655.7 L268.1 655.7 L270.1 655.7 L272.1 655.7 L274.1 655.7 L276.1 655.7 L278.1 655.7 L280.1 655.6 L282.1 655.6 L284.1 655.6 L286.1 655.6 L288.1 655.6 L290.1 655.6 L292.1 655.6 L294.1 655.6 L296.1 655.6 L298.1 655.6 L300.1 655.5 L302.1 655.5 L304.1 655.4 L306.1 655.3 L308.1 655.2 L310.1 655.1 L312.1 655.0 L314.1 654.9 L316.1 654.8 L318.1 654.7 L320.1 654.5 L322.1 654.4 L324.0 654.2 L326.0 654.1 L328.0 653.9 L330.0 653.7 L332.0 653.4 L334.0 653.2 L335.9 652.8 L337.9 652.4 L339.8 651.9 L341.7 651.3 L343.4 650.5 L345.1 649.6 L346.7 648.4 L348.1 647.1 L349.5 645.7 L350.8 644.2 L352.0 642.6 L353.2 641.0 L354.2 639.3 L355.3 637.6 L356.2 635.9 L357.1 634.1 L357.9 632.3 L358.7 630.5 L359.5 628.6 L360.3 626.8 L361.0 624.9 L361.7 623.0 L362.4 621.1 L363.0 619.3 L363.7 617.4 L364.3 615.5 L364.9 613.6 L365.6 611.7 L366.2 609.8 L366.8 607.9 L367.5 606.0 L368.1 604.1 L368.7 602.2 L369.4 600.3 L370.0 598.4 L370.6 596.5 L371.2 594.6 L371.8 592.6 L372.4 590.7 L372.9 588.8 L373.5 586.9 L374.1 585.0 L374.7 583.1 L375.2 581.2 L375.8 579.2 L376.3 577.3 L376.9 575.4 L377.5 573.5 L378.0 571.5 L378.5 569.6 L379.0 567.7 L379.5 565.7 L380.0 563.8 L380.4 561.8 L380.9 559.9 L381.3 557.9 L381.7 556.0 L382.1 554.0 L382.5 552.1 L382.9 550.1 L383.3 548.1 L383.7 546.2 L384.1 544.2 L384.5 542.3 L384.9 540.3 L385.3 538.3 L385.7 536.4 L386.1 534.4 L386.4 532.4 L386.8 530.5 L387.1 528.5 L387.5 526.5 L387.8 524.6 L388.2 522.6 L388.5 520.6 L388.9 518.6 L389.2 516.7 L389.6 514.7 L389.9 512.7 L390.3 510.8 L390.6 508.8 L391.0 506.8 L391.3 504.9 L391.7 502.9 L392.0 500.9 L392.3 498.9 L392.7 497.0 L393.0 495.0 L393.3 493.0 L393.7 491.0 L394.0 489.1 L394.3 487.1 L394.7 485.1 L395.0 483.2 L395.3 481.2 L395.7 479.2 L396.0 477.2 L396.3 475.3 L396.6 473.3 L397.0 471.3 L397.3 469.3 L397.6 467.4 L397.9 465.4 L398.2 463.4 L398.6 461.4 L398.9 459.5 L399.2 457.5 L399.5 455.5 L399.8 453.5 L400.1 451.6 L400.4 449.6 L400.7 447.6 L401.1 445.6 L401.4 443.7 L401.8 441.7 L402.1 439.7 L402.5 437.8 L402.8 435.8 L403.2 433.8 L403.6 431.9 L404.0 429.9 L404.3 427.9 L404.7 426.0 L405.1 424.0 L405.4 422.0 L405.8 420.1 L406.2 418.1 L406.5 416.1 L406.9 414.2 L407.3 412.2 L407.6 410.2 L408.0 408.3 L408.4 406.3 L408.8 404.3 L409.1 402.4 L409.5 400.4 L409.9 398.4 L410.2 396.5 L410.6 394.5 L411.0 392.5 L411.3 390.6 L411.7 388.6 L412.1 386.6 L412.4 384.7 L412.8 382.7 L413.2 380.7 L413.5 378.7 L413.9 376.8 L414.2 374.8 L414.5 372.8 L414.9 370.9 L415.2 368.9 L415.5 366.9 L415.9 364.9 L416.2 363.0 L416.5 361.0 L416.9 359.0 L417.2 357.0 L417.5 355.1 L417.9 353.1 L418.2 351.1 L418.5 349.2 L418.9 347.2 L419.3 345.2 L419.7 343.3 L420.0 341.3 L420.4 339.3 L420.8 337.4 L421.2 335.4 L421.6 333.5 L422.0 331.5 L422.4 329.5 L422.9 327.6 L423.3 325.6 L423.7 323.7 L424.1 321.7 L424.5 319.7 L424.9 317.8 L425.3 315.8 L425.6 313.9 L426.0 311.9 L426.4 309.9 L426.8 308.0 L427.2 306.0 L427.6 304.1 L428.1 302.1 L428.5 300.1 L428.9 298.2 L429.4 296.2 L429.9 294.3 L430.4 292.4 L431.0 290.5 L431.6 288.5 L432.1 286.6 L432.7 284.7 L433.3 282.8 L433.9 280.9 L434.4 279.0 L435.0 277.1 L435.6 275.1 L436.2 273.2 L436.7 271.3 L437.3 269.4 L437.9 267.5 L438.5 265.6 L439.0 263.6 L439.6 261.7 L440.2 259.8 L440.8 257.9 L441.4 256.0 L442.1 254.1 L442.7 252.2 L443.4 250.3 L444.1 248.5 L444.8 246.6 L445.5 244.7 L446.2 242.8 L447.0 241.0 L447.7 239.1 L448.6 237.3 L449.4 235.5 L450.3 233.7 L451.1 231.9 L452.0 230.1 L452.9 228.3 L453.9 226.6 L454.8 224.8 L455.8 223.1 L456.9 221.4 L458.1 219.8 L459.3 218.2 L460.5 216.7 L461.8 215.1 L463.1 213.6 L464.5 212.2 L465.8 210.7 L467.3 209.4 L468.8 208.1 L470.4 206.9 L472.0 205.8 L473.7 204.7 L475.4 203.7 L477.2 202.9 L479.0 202.1 L480.9 201.5 L482.8 201.0 L484.7 200.5 L486.7 200.2 L488.7 199.9 L490.6 199.7 L492.6 199.7 L494.6 199.7 L496.6 199.9 L498.5 200.1 L500.5 200.4 L502.5 200.7 L504.4 201.1 L506.3 201.6 L508.3 202.2 L510.1 202.8 L512.0 203.5 L513.9 204.2 L515.7 205.0 L517.6 205.8 L519.4 206.7 L521.2 207.6 L522.9 208.5 L524.7 209.4 L526.4 210.4 L528.1 211.5 L529.8 212.6 L531.4 213.7 L533.1 214.9 L534.7 216.0 L536.3 217.2 L537.9 218.4 L539.5 219.6 L541.1 220.8 L542.7 222.0 L544.2 223.3 L545.8 224.5 L547.4 225.8 L548.9 227.0 L550.5 228.3 L552.0 229.6 L553.5 230.9 L555.1 232.2 L556.6 233.4 L558.1 234.7 L559.6 236.1 L561.1 237.4 L562.6 238.7 L564.1 240.0 L565.6 241.4 L567.1 242.7 L568.6 244.0 L570.1 245.4 L571.6 246.7 L573.1 248.1 L574.5 249.4 L576.0 250.8 L577.5 252.1 L578.9 253.5 L580.4 254.9 L581.8 256.3 L583.2 257.7 L584.6 259.1 L586.1 260.5 L587.5 261.9 L588.9 263.3 L590.3 264.7 L591.7 266.2 L593.1 267.6 L594.5 269.0 L595.9 270.4 L597.3 271.9 L598.7 273.4 L600.0 274.8 L601.4 276.3 L602.7 277.8 L604.1 279.3 L605.4 280.7 L606.8 282.2 L608.1 283.7 L609.5 285.2 L610.8 286.7 L612.2 288.1 L613.5 289.6 L614.8 291.1 L616.2 292.6 L617.5 294.1 L618.9 295.6 L620.2 297.0 L621.6 298.5 L622.9 300.0 L624.2 301.5 L625.6 303.0 L626.9 304.5 L628.3 305.9 L629.6 307.4 L631.0 308.9 L632.3 310.4 L633.6 311.9 L635.0 313.4 L636.3 314.8 L637.7 316.3 L639.0 317.8 L640.4 319.3 L641.7 320.8 L643.1 322.2 L644.4 323.7 L645.8 325.2 L647.1 326.7 L648.4 328.2 L649.7 329.7 L651.0 331.2 L652.2 332.8 L653.5 334.4 L654.7 336.0 L655.9 337.6 L657.1 339.2 L658.3 340.8 L659.5 342.4 L660.7 344.0 L661.8 345.6 L663.0 347.2 L664.2 348.9 L665.3 350.5 L666.5 352.1 L667.7 353.7 L668.8 355.4 L669.9 357.0 L671.1 358.7 L672.2 360.4 L673.2 362.0 L674.3 363.7 L675.3 365.5 L676.3 367.2 L677.3 368.9 L678.4 370.6 L679.3 372.4 L680.3 374.1 L681.3 375.9 L682.2 377.7 L683.1 379.4 L684.0 381.2 L684.9 383.0 L685.8 384.8 L686.7 386.6 L687.6 388.4 L688.5 390.1 L689.5 391.9 L690.4 393.7 L691.4 395.4 L692.3 397.2 L693.2 399.0 L693.9 400.8 L694.7 402.7 L695.3 404.6 L695.9 406.5 L696.5 408.4 L697.1 410.3 L697.6 412.2 L698.2 414.1 L698.8 416.0 L699.4 417.9 L700.1 419.8 L700.7 421.7 L701.3 423.6 L702.0 425.5 L702.6 427.4 L703.2 429.3 L703.7 431.3 L704.2 433.2 L704.7 435.1 L705.2 437.1 L705.7 439.0 L706.1 441.0 L706.6 442.9 L707.0 444.9 L707.5 446.8 L707.9 448.8 L708.4 450.7 L708.8 452.7 L709.3 454.6 L709.7 456.6 L710.2 458.5 L710.6 460.5 L711.0 462.4 L711.4 464.4 L711.8 466.3 L712.2 468.3 L712.5 470.3 L712.9 472.2 L713.2 474.2 L713.6 476.2 L713.9 478.2 L714.2 480.1 L714.4 482.1 L714.7 484.1 L714.9 486.1 L715.1 488.1 L715.3 490.1 L715.5 492.1 L715.7 494.1 L716.0 496.0 L716.2 498.0 L716.5 500.0 L716.8 502.0 L717.1 504.0 L717.5 505.9 L717.8 507.9 L718.2 509.9 L718.6 511.8 L718.9 513.8 L719.3 515.8 L719.6 517.7 L719.9 519.7 L720.2 521.7 L720.5 523.7 L720.7 525.7 L721.0 527.6 L721.2 529.6 L721.4 531.6 L721.6 533.6 L721.8 535.6 L722.0 537.6 L722.2 539.6 L722.3 541.6 L722.5 543.6 L722.6 545.6 L722.7 547.6 L722.9 549.6 L723.0 551.6 L723.2 553.6 L723.3 555.5 L723.5 557.5 L723.7 559.5 L724.0 561.5 L724.3 563.5 L724.7 565.4 L725.0 567.4 L725.4 569.4 L725.8 571.3 L726.1 573.3 L726.5 575.3 L726.8 577.3 L727.1 579.2 L727.4 581.2 L727.7 583.2 L728.0 585.2 L728.3 587.1 L728.6 589.1 L728.9 591.1 L729.2 593.1 L729.6 595.1 L729.9 597.0 L730.2 599.0 L730.6 601.0 L730.9 602.9 L731.2 604.9 L731.6 606.9 L731.9 608.9 L732.3 610.8 L732.7 612.8 L733.0 614.8 L733.4 616.7 L733.8 618.7 L734.1 620.7 L734.5 622.6 L734.9 624.6 L735.3 626.5 L735.8 628.5 L736.3 630.4 L736.8 632.3 L737.3 634.3 L737.9 636.2 L738.5 638.1 L739.0 640.0 L739.6 641.9 L740.2 643.8 L740.9 645.7 L741.5 647.7 L742.1 649.6 L742.7 651.5 L743.4 653.4 L744.0 655.3 L744.3 656.2 L746.3 656.2 L748.3 656.2 L750.3 656.2 L752.3 656.2 L754.3 656.2 L756.3 656.2 L758.4 656.2 L760.4 656.2 L762.4 656.2 L764.4 656.2 L766.4 656.2 L768.4 656.2 L770.4 656.2 L772.4 656.2 L774.4 656.2 L776.4 656.2 L778.4 656.2 L780.4 656.2 L782.4 656.2 L784.5 656.2 L786.5 656.2 L788.5 656.2 L790.5 656.2 L792.5 656.2 L794.5 656.2 L796.5 656.2 L798.5 656.2 L800.5 656.2 L802.5 656.2 L804.5 656.2 L806.5 656.2 L808.6 656.2 L810.6 656.2 L812.6 656.2 L814.6 656.2 L816.6 656.2 L818.6 656.2 L820.6 656.2 L822.6 656.2 L824.6 656.2 L826.6 656.2 L828.6 656.2 L830.6 656.2 L832.6 656.2 L834.7 656.2 L836.7 656.2 L838.7 656.2 L840.7 656.2 L842.7 656.2 L844.7 656.2 L846.7 656.2 L848.7 656.2 L850.7 656.2 L852.7 656.2 L854.7 656.2 L856.7 656.2 L858.7 656.2 L860.8 656.2 L862.8 656.2 L864.8 656.2 L866.8 656.2 L868.8 656.2 L870.8 656.2 L872.8 656.2 L874.8 656.2 L876.8 656.2 L878.8 656.2 L880.8 656.2 L882.8 656.2 L884.9 656.2 L886.9 656.2 L888.9 656.2 L890.9 656.2 L892.9 656.2 L894.9 656.2 L896.9 656.2 L898.9 656.2 L900.9 656.2 L902.9 656.2 L904.9 656.2 L906.9 656.2 L908.9 656.2 L911.0 656.2 L913.0 656.2 L915.0 656.2 L917.0 656.2 L919.0 656.2 L921.0 656.2 L923.0 656.2" stroke="#000000" stroke-width="5.0"/>
<path d="M130.0 656.0 L132.0 656.0 L134.0 656.0 L136.0 656.0 L138.0 656.0 L140.0 656.0 L142.0 656.0 L144.0 656.0 L146.0 656.0 L148.0 656.0 L150.0 656.0 L152.0 656.0 L154.0 656.0 L156.0 655.9 L158.0 655.9 L160.0 655.9 L162.0 655.9 L164.0 655.9 L166.0 655.9 L168.0 655.9 L170.0 655.9 L172.0 655.9 L174.0 655.9 L176.0 655.9 L178.1 655.9 L180.1 655.9 L182.1 655.9 L184.1 655.9 L186.1 655.9 L188.1 655.9 L190.1 655.9 L192.1 655.9 L194.1 655.9 L196.1 655.9 L198.1 655.9 L200.1 655.9 L202.1 655.9 L204.1 655.9 L206.1 655.8 L208.1 655.8 L210.1 655.8 L212.1 655.8 L214.1 655.8 L216.1 655.8 L218.1 655.8 L220.1 655.8 L222.1 655.8 L224.1 655.8 L226.1 655.8 L228.1 655.8 L230.1 655.8 L232.1 655.8 L234.1 655.8 L236.1 655.8 L238.1 655.8 L240.1 655.8 L242.1 655.8 L244.1 655.8 L246.1 655.8 L248.1 655.8 L250.1 655.8 L252.1 655.8 L254.1 655.8 L256.1 655.7 L258.1 655.7 L260.1 655.7 L262.1 655.7 L264.1 655.7 L266.1 655.7 L268.1 655.7 L270.1 655.7 L272.2 655.7 L274.2 655.7 L276.2 655.7 L278.2 655.7 L280.2 655.7 L282.2 655.7 L284.2 655.7 L286.2 655.7 L288.2 655.7 L290.2 655.7 L292.2 655.7 L294.2 655.7 L296.2 655.7 L298.2 655.7 L300.2 655.7 L302.2 655.7 L304.2 655.7 L306.2 655.6 L308.2 655.6 L310.2 655.6 L312.2 655.6 L314.2 655.6 L316.2 655.6 L318.2 655.6 L320.2 655.6 L322.2 655.6 L324.2 655.6 L326.2 655.6 L328.2 655.6 L330.2 655.5 L332.2 655.5 L334.2 655.4 L336.2 655.3 L338.2 655.2 L340.2 655.1 L342.2 655.0 L344.2 654.9 L346.2 654.8 L348.2 654.6 L350.2 654.5 L352.2 654.3 L354.2 654.0 L356.2 653.8 L358.1 653.5 L360.1 653.3 L362.1 652.9 L364.1 652.6 L366.0 652.3 L368.0 651.9 L370.0 651.4 L371.9 650.9 L373.8 650.3 L375.6 649.6 L377.5 648.9 L379.3 648.0 L381.1 647.2 L382.9 646.3 L384.6 645.3 L386.3 644.3 L387.9 643.1 L389.5 642.0 L391.1 640.7 L392.7 639.5 L394.2 638.2 L395.7 636.8 L397.1 635.5 L398.5 634.0 L399.8 632.5 L401.1 631.0 L402.4 629.5 L403.7 627.9 L405.0 626.4 L406.2 624.9 L407.5 623.3 L408.8 621.7 L410.0 620.2 L411.2 618.6 L412.5 617.0 L413.7 615.5 L414.9 613.9 L416.2 612.3 L417.4 610.7 L418.7 609.1 L419.9 607.6 L421.1 606.0 L422.3 604.4 L423.6 602.8 L424.8 601.2 L426.0 599.6 L427.1 598.0 L428.3 596.4 L429.4 594.7 L430.6 593.1 L431.7 591.5 L432.9 589.8 L434.1 588.2 L435.3 586.6 L436.5 585.0 L437.8 583.5 L439.0 581.9 L440.2 580.3 L441.4 578.7 L442.6 577.1 L443.9 575.5 L445.1 573.9 L446.3 572.3 L447.5 570.8 L448.8 569.2 L450.1 567.7 L451.4 566.1 L452.7 564.6 L454.0 563.1 L455.2 561.6 L456.5 560.0 L457.8 558.5 L459.1 557.0 L460.4 555.5 L461.7 553.9 L463.0 552.4 L464.3 550.9 L465.6 549.4 L466.9 547.8 L468.2 546.3 L469.5 544.8 L470.8 543.2 L472.1 541.7 L473.4 540.2 L474.7 538.7 L476.0 537.2 L477.3 535.7 L478.6 534.2 L480.0 532.6 L481.3 531.1 L482.6 529.6 L484.0 528.2 L485.3 526.7 L486.7 525.2 L488.0 523.7 L489.4 522.3 L490.8 520.9 L492.2 519.5 L493.7 518.0 L495.1 516.6 L496.5 515.2 L497.9 513.8 L499.3 512.4 L500.7 511.0 L502.1 509.6 L503.6 508.1 L505.0 506.7 L506.4 505.3 L507.8 503.9 L509.2 502.5 L510.6 501.1 L512.1 499.6 L513.5 498.2 L514.9 496.8 L516.3 495.4 L517.7 494.0 L519.1 492.6 L520.5 491.1 L521.9 489.7 L523.3 488.3 L524.7 486.8 L526.1 485.4 L527.5 483.9 L528.8 482.5 L530.2 481.0 L531.6 479.5 L533.0 478.1 L534.3 476.6 L535.7 475.2 L537.1 473.7 L538.4 472.3 L539.8 470.8 L541.2 469.3 L542.6 467.9 L543.9 466.4 L545.3 465.0 L546.7 463.5 L548.1 462.0 L549.4 460.6 L550.8 459.1 L552.2 457.7 L553.5 456.2 L554.9 454.8 L556.3 453.3 L557.7 451.8 L559.0 450.4 L560.4 448.9 L561.8 447.5 L563.2 446.0 L564.6 444.6 L566.0 443.2 L567.4 441.7 L568.8 440.3 L570.1 438.9 L571.5 437.4 L572.9 436.0 L574.3 434.5 L575.7 433.1 L577.1 431.7 L578.5 430.2 L579.9 428.8 L581.3 427.4 L582.7 425.9 L584.1 424.5 L585.5 423.1 L586.9 421.6 L588.3 420.2 L589.7 418.8 L591.1 417.3 L592.5 415.9 L593.9 414.5 L595.3 413.0 L596.7 411.6 L598.1 410.2 L599.5 408.7 L600.9 407.3 L602.3 405.9 L603.7 404.5 L605.2 403.1 L606.6 401.7 L608.1 400.3 L609.5 398.9 L611.0 397.6 L612.4 396.2 L613.9 394.8 L615.4 393.5 L616.8 392.1 L618.3 390.7 L619.8 389.4 L621.2 388.0 L622.7 386.6 L624.1 385.3 L625.6 383.9 L627.0 382.5 L628.5 381.1 L629.9 379.7 L631.3 378.3 L632.7 376.9 L634.1 375.4 L635.5 374.0 L636.9 372.6 L638.4 371.2 L639.8 369.8 L641.2 368.4 L642.7 367.0 L644.1 365.6 L645.6 364.3 L647.1 362.9 L648.6 361.6 L650.0 360.2 L651.6 358.9 L653.1 357.6 L654.6 356.4 L656.2 355.2 L657.8 354.0 L659.5 352.9 L661.2 351.8 L662.9 350.7 L664.6 349.8 L666.4 348.9 L668.2 348.0 L670.0 347.2 L671.8 346.4 L673.7 345.6 L674.6 345.2 L676.8 345.2 L678.9 345.2 L681.1 345.2 L683.2 345.2 L684.3 345.2 L685.9 346.5 L687.4 347.8 L689.0 349.1 L690.5 350.5 L692.1 351.8 L693.6 353.1 L695.2 354.4 L696.0 356.2 L696.7 358.1 L697.5 359.9 L698.2 361.8 L699.0 363.7 L699.7 365.5 L700.4 367.4 L701.1 369.3 L701.7 371.2 L702.3 373.1 L702.9 375.0 L703.5 376.9 L704.1 378.8 L704.5 380.8 L705.0 382.7 L705.3 384.7 L705.7 386.6 L706.1 388.6 L706.4 390.6 L706.8 392.5 L707.2 394.5 L707.5 396.5 L707.9 398.4 L708.3 400.4 L708.7 402.4 L709.0 404.3 L709.4 406.3 L709.8 408.3 L710.2 410.2 L710.6 412.2 L710.9 414.2 L711.3 416.1 L711.7 418.1 L712.0 420.1 L712.4 422.0 L712.7 424.0 L713.1 426.0 L713.5 427.9 L713.8 429.9 L714.1 431.9 L714.4 433.9 L714.7 435.8 L715.0 437.8 L715.3 439.8 L715.6 441.8 L715.8 443.8 L716.1 445.8 L716.3 447.7 L716.5 449.7 L716.8 451.7 L717.0 453.7 L717.2 455.7 L717.4 457.7 L717.5 459.7 L717.7 461.7 L717.8 463.7 L717.9 465.7 L718.0 467.7 L718.1 469.7 L718.2 471.7 L718.3 473.7 L718.3 475.7 L718.4 477.7 L718.6 479.7 L718.7 481.7 L718.8 483.7 L719.0 485.7 L719.2 487.6 L719.3 489.6 L719.5 491.6 L719.7 493.6 L719.9 495.6 L720.1 497.6 L720.3 499.6 L720.5 501.6 L720.7 503.6 L721.0 505.6 L721.2 507.6 L721.4 509.5 L721.6 511.5 L721.8 513.5 L722.0 515.5 L722.2 517.5 L722.4 519.5 L722.6 521.5 L722.8 523.5 L723.0 525.5 L723.2 527.5 L723.5 529.4 L723.7 531.4 L724.0 533.4 L724.2 535.4 L724.5 537.4 L724.7 539.4 L725.0 541.4 L725.2 543.3 L725.5 545.3 L725.7 547.3 L725.9 549.3 L726.2 551.3 L726.4 553.3 L726.6 555.3 L726.8 557.3 L727.0 559.2 L727.2 561.2 L727.3 563.2 L727.5 565.2 L727.6 567.2 L727.8 569.2 L727.9 571.2 L728.2 573.2 L728.4 575.2 L728.7 577.2 L728.9 579.2 L729.2 581.1 L729.4 583.1 L729.7 585.1 L729.9 587.1 L730.1 589.1 L730.3 591.1 L730.5 593.1 L730.7 595.1 L730.9 597.0 L731.1 599.0 L731.3 601.0 L731.5 603.0 L731.7 605.0 L731.9 607.0 L732.1 609.0 L732.3 611.0 L732.5 613.0 L732.7 615.0 L732.9 617.0 L733.1 619.0 L733.3 620.9 L733.5 622.9 L733.7 624.9 L733.8 626.9 L734.0 628.9 L734.2 630.9 L734.5 632.9 L734.9 634.8 L735.5 636.7 L736.1 638.6 L736.7 640.5 L737.4 642.4 L738.1 644.2 L738.9 646.1 L739.6 647.9 L740.4 649.8 L741.2 651.6 L742.0 653.4 L742.8 655.3 L743.2 656.2 L745.2 656.2 L747.2 656.2 L749.2 656.2 L751.2 656.2 L753.2 656.2 L755.3 656.2 L757.3 656.2 L759.3 656.2 L761.3 656.2 L763.3 656.2 L765.3 656.2 L767.3 656.2 L769.3 656.2 L771.3 656.2 L773.3 656.2 L775.3 656.2 L777.4 656.2 L779.4 656.2 L781.4 656.2 L783.4 656.2 L785.4 656.2 L787.4 656.2 L789.4 656.2 L791.4 656.2 L793.4 656.2 L795.4 656.2 L797.4 656.2 L799.5 656.2 L801.5 656.2 L803.5 656.2 L805.5 656.2 L807.5 656.2 L809.5 656.2 L811.5 656.2 L813.5 656.2 L815.5 656.2 L817.5 656.2 L819.5 656.2 L821.5 656.2 L823.6 656.2 L825.6 656.2 L827.6 656.2 L829.6 656.2 L831.6 656.2 L833.6 656.2 L835.6 656.2 L837.6 656.2 L839.6 656.2 L841.6 656.2 L843.6 656.2 L845.7 656.2 L847.7 656.2 L849.7 656.2 L851.7 656.2 L853.7 656.2 L855.7 656.2 L857.7 656.2 L859.7 656.2 L861.7 656.2 L863.7 656.2 L865.7 656.2 L867.8 656.2 L869.8 656.2 L871.8 656.2 L873.8 656.2 L875.8 656.2 L877.8 656.2 L879.8 656.2 L881.8 656.2 L883.8 656.2 L885.8 656.2 L887.8 656.2 L889.9 656.2 L891.9 656.2 L893.9 656.2 L895.9 656.2 L897.9 656.2 L899.9 656.2 L901.9 656.2 L903.9 656.2 L905.9 656.2 L907.9 656.2 L909.9 656.2 L912.0 656.2 L914.0 656.2 L916.0 656.2 L918.0 656.2 L920.0 656.2 L922.0 656.2 L923.0 656.2" stroke="#ff8400" stroke-width="4.5"/>
<path d="M130.0 656.2 L132.0 656.2 L134.0 656.2 L136.0 656.2 L138.0 656.2 L140.0 656.2 L142.0 656.2 L144.0 656.2 L146.0 656.2 L148.0 656.2 L150.0 656.2 L152.0 656.2 L154.0 656.2 L156.0 656.2 L158.0 656.2 L160.0 656.2 L162.0 656.2 L164.0 656.2 L166.0 656.2 L168.0 656.2 L170.0 656.2 L172.0 656.2 L174.0 656.2 L176.0 656.2 L178.0 656.2 L180.0 656.2 L182.0 656.2 L184.0 656.2 L186.0 656.2 L188.0 656.2 L190.0 656.2 L192.0 656.2 L194.0 656.2 L196.0 656.2 L198.0 656.2 L200.0 656.2 L202.0 656.2 L204.0 656.2 L206.0 656.2 L208.0 656.2 L210.0 656.2 L212.0 656.2 L214.0 656.2 L216.0 656.2 L218.0 656.2 L220.0 656.2 L222.0 656.2 L224.0 656.2 L226.0 656.2 L228.0 656.2 L230.0 656.2 L232.0 656.2 L234.0 656.2 L236.0 656.2 L238.0 656.2 L240.0 656.2 L242.0 656.2 L244.0 656.2 L246.0 656.2 L248.0 656.2 L250.0 656.2 L252.0 656.2 L254.0 656.2 L256.0 656.2 L258.0 656.2 L260.0 656.2 L262.0 656.2 L264.0 656.2 L266.0 656.2 L268.0 656.2 L270.0 656.2 L272.0 656.2 L274.0 656.2 L276.0 656.2 L278.0 656.2 L280.0 656.2 L282.0 656.2 L284.0 656.2 L286.0 656.2 L288.0 656.2 L290.0 656.2 L292.0 656.2 L294.0 656.2 L296.0 656.2 L298.0 656.2 L300.0 656.2 L302.0 656.2 L304.0 656.2 L306.0 656.2 L308.0 656.2 L310.0 656.2 L312.0 656.2 L314.0 656.2 L316.0 656.2 L318.0 656.2 L320.0 656.2 L322.0 656.2 L324.0 656.2 L326.0 656.2 L328.0 656.2 L330.0 656.2 L332.0 656.2 L334.0 656.2 L336.0 656.2 L338.0 656.2 L340.0 656.2 L342.0 656.2 L344.0 656.2 L346.0 656.2 L348.0 656.2 L350.0 656.2 L352.0 656.2 L354.0 656.2 L356.0 656.2 L358.0 656.2 L360.1 656.2 L362.1 656.2 L364.1 656.2 L366.1 656.2 L368.1 656.2 L370.1 656.2 L372.1 656.2 L374.1 656.2 L376.1 656.2 L378.1 656.2 L380.1 656.2 L382.1 656.2 L384.1 656.2 L386.1 656.2 L388.1 656.2 L390.1 656.2 L392.1 656.2 L394.1 656.2 L396.1 656.2 L398.1 656.2 L400.1 656.2 L402.1 656.2 L404.1 656.2 L406.1 656.2 L408.1 656.2 L410.1 656.2 L412.1 656.2 L414.1 656.2 L416.1 656.2 L418.1 656.2 L420.1 656.2 L422.1 656.2 L424.1 656.2 L426.1 656.2 L428.1 656.2 L430.1 656.2 L432.1 656.2 L434.1 656.2 L436.1 656.2 L438.1 656.2 L440.1 656.2 L442.1 656.2 L444.1 656.2 L446.1 656.2 L448.1 656.2 L450.1 656.2 L452.1 656.2 L454.1 656.2 L456.1 656.2 L458.1 656.2 L460.1 656.2 L462.1 656.2 L464.1 656.2 L466.1 656.2 L468.1 656.2 L470.1 656.2 L472.1 656.2 L474.1 656.2 L476.1 656.2 L478.1 656.2 L480.1 656.2 L482.1 656.2 L484.1 656.2 L486.1 656.2 L488.1 656.2 L490.1 656.2 L492.1 656.2 L494.1 656.2 L496.1 656.2 L498.1 656.2 L500.1 656.2 L502.1 656.2 L504.1 656.2 L506.1 656.2 L508.1 656.2 L510.1 656.2 L512.1 656.2 L514.1 656.2 L516.1 656.2 L518.1 656.2 L520.1 656.2 L522.1 656.2 L524.1 656.2 L526.1 656.2 L528.1 656.2 L530.1 656.2 L532.1 656.2 L534.1 656.2 L536.1 656.2 L538.1 656.2 L540.1 656.2 L542.1 656.2 L544.1 656.2 L546.1 656.2 L548.1 656.2 L550.1 656.2 L552.1 656.2 L554.1 656.2 L556.1 656.2 L558.1 656.2 L560.1 656.2 L562.1 656.2 L564.1 656.2 L566.1 656.2 L568.1 656.2 L570.1 656.2 L572.1 656.2 L574.1 656.2 L576.1 656.2 L578.1 656.2 L580.1 656.2 L582.1 656.2 L584.1 656.2 L586.1 656.2 L588.1 656.2 L590.1 656.2 L592.1 656.2 L594.1 656.2 L596.1 656.2 L598.1 656.2 L600.1 656.2 L602.1 656.2 L604.1 656.2 L606.1 656.2 L608.1 656.2 L610.1 656.2 L612.1 656.2 L614.1 656.2 L616.1 656.2 L618.1 656.2 L620.1 656.2 L622.1 656.2 L624.1 656.2 L626.1 656.2 L628.1 656.2 L630.1 656.2 L632.1 656.2 L634.1 656.2 L636.1 656.2 L638.1 656.2 L640.1 656.2 L642.1 656.2 L644.1 656.2 L646.1 656.2 L648.1 656.2 L650.1 656.2 L652.1 656.2 L654.1 656.2 L656.1 656.2 L658.1 656.2 L660.1 656.2 L662.1 656.2 L664.1 656.2 L666.1 656.1 L668.1 655.9 L670.0 655.7 L672.0 655.3 L673.9 654.8 L675.8 654.3 L677.7 653.6 L679.5 652.8 L681.3 652.0 L683.1 651.1 L684.8 650.1 L686.5 649.0 L688.0 647.8 L689.5 646.5 L690.9 645.1 L692.3 643.7 L693.6 642.2 L694.9 640.7 L696.1 639.1 L697.2 637.5 L698.2 635.8 L699.0 634.0 L699.8 632.2 L700.6 630.3 L701.4 628.5 L702.1 626.6 L702.8 624.7 L703.4 622.8 L704.0 620.9 L704.5 619.0 L704.9 617.0 L705.4 615.1 L705.9 613.2 L706.3 611.2 L706.7 609.3 L707.2 607.3 L707.6 605.4 L708.0 603.4 L708.5 601.4 L708.9 599.5 L709.3 597.5 L709.7 595.6 L710.1 593.6 L710.5 591.6 L710.8 589.7 L711.2 587.7 L711.5 585.7 L711.8 583.8 L712.1 581.8 L712.4 579.8 L712.7 577.8 L712.9 575.8 L713.1 573.8 L713.3 571.9 L713.5 569.9 L713.7 567.9 L713.8 565.9 L714.0 563.9 L714.1 561.9 L714.3 559.9 L714.4 557.9 L714.5 555.9 L714.6 553.9 L714.7 551.9 L714.9 549.9 L715.0 547.9 L715.1 545.9 L715.2 543.9 L715.4 541.9 L715.5 539.9 L715.7 537.9 L715.9 535.9 L716.1 534.0 L716.3 532.0 L716.5 530.0 L716.7 528.0 L716.9 526.0 L717.1 524.0 L717.3 522.0 L717.5 520.0 L717.7 518.0 L717.9 516.0 L718.1 514.1 L718.3 512.1 L718.5 510.1 L718.7 508.1 L718.9 506.1 L719.1 504.1 L719.3 502.1 L719.5 500.1 L719.7 498.1 L719.8 496.1 L720.0 494.1 L720.1 492.1 L720.3 490.1 L720.4 488.2 L720.6 486.2 L720.7 484.2 L720.8 482.2 L721.0 480.2 L721.1 478.2 L721.2 476.2 L721.3 474.2 L721.4 472.2 L721.5 470.2 L721.6 468.2 L721.7 466.2 L721.8 464.2 L721.9 462.2 L722.0 460.2 L722.2 458.2 L722.3 456.2 L722.5 454.2 L722.6 452.2 L722.8 450.2 L722.9 448.2 L723.0 446.2 L723.2 444.2 L723.3 442.2 L723.5 440.2 L723.6 438.2 L723.8 436.3 L723.9 434.3 L724.1 432.3 L724.3 430.3 L724.4 428.3 L724.6 426.3 L724.7 424.3 L724.8 422.3 L725.0 420.3 L725.1 418.3 L725.2 416.3 L725.2 414.3 L725.3 412.3 L725.4 410.3 L725.5 408.3 L725.6 406.3 L725.6 404.3 L725.7 402.3 L725.8 400.3 L725.9 398.3 L726.0 396.3 L726.1 394.3 L726.3 392.3 L726.4 390.3 L726.5 388.3 L726.6 386.3 L726.7 384.3 L726.9 382.3 L727.0 380.3 L727.1 378.3 L727.2 376.3 L727.4 374.4 L727.5 372.4 L727.6 370.4 L727.8 368.4 L727.9 366.4 L728.0 364.4 L728.2 362.4 L728.3 360.4 L728.4 358.4 L728.6 356.4 L728.7 354.4 L728.8 352.4 L729.0 350.4 L729.1 348.4 L729.2 346.4 L729.3 344.4 L729.5 342.4 L729.6 340.4 L729.7 338.4 L729.8 336.4 L729.9 334.4 L730.1 332.4 L730.2 330.4 L730.3 328.4 L730.4 326.4 L730.5 324.4 L730.7 322.4 L730.8 320.4 L730.9 318.4 L731.0 316.5 L731.1 314.5 L731.2 312.5 L731.3 310.5 L731.4 308.5 L731.6 306.5 L731.7 304.5 L731.8 302.5 L731.9 300.5 L732.0 298.5 L732.1 296.5 L732.2 294.5 L732.3 292.5 L732.4 290.5 L732.6 288.5 L732.7 286.5 L732.8 284.5 L732.9 282.5 L733.0 280.5 L733.2 278.5 L733.3 276.5 L733.4 274.5 L733.5 272.5 L733.7 270.5 L733.8 268.5 L733.9 266.5 L734.1 264.5 L734.2 262.5 L734.3 260.5 L734.4 258.5 L734.6 256.5 L734.7 254.6 L734.9 252.6 L735.1 250.6 L735.3 248.6 L735.4 246.6 L735.6 244.6 L735.8 242.6 L736.0 240.6 L736.2 238.6 L736.4 236.6 L736.6 234.6 L736.8 232.7 L737.0 230.7 L737.2 228.7 L737.4 226.7 L737.6 224.7 L737.8 222.7 L738.0 220.7 L738.2 218.7 L738.4 216.7 L738.6 214.7 L738.8 212.7 L739.0 210.8 L739.2 208.8 L739.4 206.8 L739.6 204.8 L739.8 202.8 L740.0 200.8 L740.2 198.8 L740.4 196.8 L740.6 194.8 L740.8 192.8 L741.0 190.8 L741.2 188.9 L741.3 186.9 L741.5 184.9 L741.7 182.9 L741.8 180.9 L742.0 178.9 L742.1 176.9 L742.3 174.9 L742.5 172.9 L742.6 170.9 L742.8 168.9 L743.0 166.9 L743.2 164.9 L743.4 162.9 L743.6 161.0 L743.8 159.0 L744.0 157.0 L744.3 155.0 L744.5 153.0 L744.7 151.0 L745.0 149.0 L745.2 147.0 L745.5 145.1 L745.8 143.1 L746.1 141.1 L746.4 139.1 L746.7 137.2 L747.0 135.2 L747.3 133.2 L747.7 131.2 L748.0 129.3 L748.3 127.3 L748.7 125.3 L749.0 123.3 L749.4 121.4 L749.8 119.4 L750.2 117.5 L750.6 115.5 L751.1 113.6 L751.6 111.6 L752.1 109.7 L752.6 107.8 L753.1 105.8 L753.6 103.9 L754.1 102.0 L754.6 100.0 L755.2 98.1 L755.8 96.2 L756.4 94.3 L757.1 92.4 L757.7 90.5 L758.4 88.6 L759.0 86.7 L759.7 84.9 L760.4 83.0 L761.1 81.1 L761.8 79.2 L762.6 77.4 L763.4 75.6 L764.3 73.8 L765.1 72.0 L766.0 70.2 L766.9 68.4 L767.8 66.6 L768.8 64.9 L769.7 63.1 L770.8 61.4 L771.8 59.7 L772.9 58.1 L774.1 56.4 L775.2 54.8 L776.4 53.2 L777.6 51.5 L778.8 49.9 L780.0 48.4 L781.3 46.8 L782.6 45.4 L784.0 43.9 L785.4 42.5 L786.8 41.1 L788.3 39.7 L789.8 38.4 L791.3 37.2 L792.9 36.0 L794.6 34.9 L796.3 33.8 L798.0 32.8 L799.7 31.9 L801.5 30.9 L803.3 30.1 L805.1 29.3 L807.0 28.6 L808.8 27.9 L810.8 27.3 L812.7 26.7 L814.6 26.2 L816.5 25.6 L818.4 25.1 L820.4 24.6 L822.3 24.2 L824.3 23.8 L826.2 23.4 L828.2 23.1 L830.2 22.8 L832.2 22.4 L834.1 22.1 L836.1 21.8 L838.1 21.5 L840.1 21.2 L842.0 21.0 L844.0 20.8 L846.0 20.6 L848.0 20.5 L850.0 20.3 L852.0 20.2 L854.0 20.0 L856.0 19.9 L858.0 19.8 L860.0 19.7 L862.0 19.7 L864.0 19.6 L866.0 19.6 L868.0 19.6 L870.0 19.6 L872.0 19.6 L874.0 19.6 L876.0 19.6 L878.0 19.6 L880.0 19.6 L882.0 19.6 L884.0 19.6 L886.0 19.6 L888.0 19.6 L890.0 19.6 L892.0 19.5 L894.0 19.5 L896.0 19.5 L898.0 19.5 L900.0 19.5 L902.0 19.5 L904.0 19.5 L906.0 19.5 L908.0 19.5 L910.0 19.5 L912.0 19.5 L914.0 19.5 L916.0 19.5 L918.0 19.5 L920.0 19.5 L922.0 19.5 L923.0 19.5" stroke="#c80000" stroke-width="4.5"/>
<path d="M130.0 656.3 L132.0 656.3 L134.0 656.3 L136.0 656.3 L138.0 656.3 L140.0 656.3 L142.0 656.3 L144.0 656.3 L146.0 656.3 L148.0 656.3 L150.0 656.3 L152.0 656.3 L154.0 656.3 L156.0 656.3 L158.0 656.3 L160.0 656.3 L162.0 656.3 L164.0 656.3 L166.0 656.3 L168.0 656.3 L170.0 656.3 L172.0 656.3 L174.0 656.3 L176.0 656.3 L178.1 656.3 L180.1 656.3 L182.1 656.3 L184.1 656.3 L186.1 656.3 L188.1 656.3 L190.1 656.3 L192.1 656.3 L194.1 656.3 L196.1 656.3 L198.1 656.3 L200.1 656.3 L202.1 656.3 L204.1 656.3 L206.1 656.3 L208.1 656.3 L210.1 656.3 L212.1 656.3 L214.1 656.3 L216.1 656.3 L218.1 656.3 L220.1 656.3 L222.1 656.3 L224.1 656.3 L226.1 656.3 L228.1 656.3 L230.1 656.3 L232.1 656.3 L234.1 656.3 L236.1 656.3 L238.1 656.3 L240.1 656.3 L242.1 656.3 L244.1 656.3 L246.1 656.3 L248.1 656.3 L250.1 656.3 L252.1 656.3 L254.1 656.3 L256.1 656.3 L258.1 656.3 L260.1 656.3 L262.1 656.3 L264.1 656.3 L266.1 656.3 L268.1 656.3 L270.1 656.3 L272.1 656.3 L274.2 656.3 L276.2 656.3 L278.2 656.3 L280.2 656.3 L282.2 656.3 L284.2 656.3 L286.2 656.3 L288.2 656.3 L290.2 656.3 L292.2 656.3 L294.2 656.3 L296.2 656.3 L298.2 656.3 L300.2 656.3 L302.2 656.3 L304.2 656.3 L306.2 656.3 L308.2 656.3 L310.2 656.3 L312.2 656.3 L314.2 656.3 L316.2 656.3 L318.2 656.3 L320.2 656.3 L322.2 656.3 L324.2 656.3 L326.2 656.3 L328.2 656.3 L330.2 656.3 L332.2 656.3 L334.2 656.3 L336.2 656.3 L338.2 656.3 L340.2 656.3 L342.2 656.3 L344.2 656.3 L346.2 656.3 L348.2 656.3 L350.2 656.3 L352.2 656.3 L354.2 656.3 L356.2 656.3 L358.2 656.3 L360.2 656.2 L362.2 656.2 L364.2 656.2 L366.2 656.2 L368.2 656.2 L370.3 656.2 L372.3 656.2 L374.3 656.2 L376.3 656.2 L378.3 656.2 L380.3 656.2 L382.3 656.2 L384.3 656.2 L386.3 656.2 L388.3 656.2 L390.3 656.2 L392.3 656.2 L394.3 656.2 L396.3 656.2 L398.3 656.2 L400.3 656.2 L402.3 656.2 L404.3 656.2 L406.3 656.2 L408.3 656.2 L410.3 656.2 L412.3 656.2 L414.3 656.2 L416.3 656.2 L418.3 656.2 L420.3 656.2 L422.3 656.2 L424.3 656.2 L426.3 656.2 L428.3 656.2 L430.3 656.2 L432.3 656.2 L434.3 656.2 L436.3 656.2 L438.3 656.2 L440.3 656.2 L442.3 656.2 L444.3 656.2 L446.3 656.2 L448.3 656.2 L450.3 656.2 L452.3 656.2 L454.3 656.2 L456.3 656.2 L458.3 656.2 L460.3 656.2 L462.3 656.2 L464.3 656.2 L466.4 656.2 L468.4 656.2 L470.4 656.2 L472.4 656.2 L474.4 656.2 L476.4 656.2 L478.4 656.2 L480.4 656.2 L482.4 656.2 L484.4 656.2 L486.4 656.2 L488.4 656.2 L490.4 656.2 L492.4 656.2 L494.4 656.2 L496.4 656.2 L498.4 656.2 L500.4 656.2 L502.4 656.2 L504.4 656.2 L506.4 656.2 L508.4 656.2 L510.4 656.2 L512.4 656.2 L514.4 656.2 L516.4 656.2 L518.4 656.2 L520.4 656.2 L522.4 656.2 L524.4 656.2 L526.4 656.2 L528.4 656.2 L530.4 656.2 L532.4 656.2 L534.4 656.2 L536.4 656.2 L538.4 656.2 L540.4 656.2 L542.4 656.2 L544.4 656.2 L546.4 656.2 L548.4 656.2 L550.4 656.2 L552.4 656.2 L554.4 656.2 L556.4 656.2 L558.4 656.2 L560.4 656.2 L562.5 656.2 L564.5 656.2 L566.5 656.2 L568.5 656.2 L570.5 656.2 L572.5 656.2 L574.5 656.2 L576.5 656.2 L578.5 656.2 L580.5 656.2 L582.5 656.2 L584.5 656.2 L586.5 656.2 L588.5 656.2 L590.5 656.1 L592.5 656.1 L594.5 656.1 L596.5 656.0 L598.5 655.9 L600.5 655.9 L602.5 655.8 L604.5 655.8 L606.5 655.7 L608.5 655.6 L610.5 655.6 L612.5 655.5 L614.5 655.5 L616.5 655.4 L618.5 655.3 L620.5 655.3 L622.5 655.2 L624.5 655.1 L626.5 655.0 L628.5 654.8 L630.5 654.7 L632.5 654.6 L634.5 654.4 L636.5 654.3 L638.5 654.1 L640.5 654.0 L642.5 653.8 L644.5 653.7 L646.4 653.5 L648.4 653.2 L650.4 652.8 L652.3 652.4 L654.2 651.9 L656.1 651.3 L658.0 650.7 L659.9 650.0 L661.7 649.2 L663.5 648.3 L665.3 647.4 L667.1 646.5 L668.8 645.5 L670.6 644.5 L672.3 643.5 L673.9 642.3 L675.5 641.2 L677.0 639.9 L678.5 638.5 L679.9 637.1 L681.3 635.7 L682.6 634.2 L683.9 632.7 L685.1 631.1 L686.4 629.5 L687.6 627.9 L688.7 626.3 L689.9 624.7 L691.0 623.0 L692.1 621.3 L693.2 619.7 L694.2 618.0 L695.2 616.2 L696.1 614.4 L697.0 612.7 L697.9 610.9 L698.8 609.1 L699.6 607.3 L700.4 605.4 L701.2 603.6 L701.9 601.7 L702.6 599.8 L703.2 597.9 L703.8 596.0 L704.5 594.1 L705.1 592.2 L705.7 590.3 L706.3 588.4 L706.9 586.5 L707.4 584.6 L708.0 582.6 L708.5 580.7 L709.0 578.8 L709.5 576.8 L710.1 574.9 L710.6 573.0 L711.1 571.0 L711.6 569.1 L712.1 567.2 L712.5 565.2 L713.0 563.3 L713.5 561.3 L713.9 559.4 L714.4 557.4 L714.8 555.5 L715.3 553.5 L715.7 551.6 L716.2 549.6 L716.6 547.7 L717.1 545.7 L717.5 543.8 L717.9 541.8 L718.4 539.8 L718.8 537.9 L719.2 535.9 L719.7 534.0 L720.1 532.0 L720.5 530.1 L721.0 528.1 L721.4 526.2 L721.9 524.2 L722.3 522.3 L722.8 520.3 L723.3 518.4 L723.8 516.5 L724.5 514.6 L725.1 512.7 L725.9 510.9 L726.7 509.1 L727.6 507.3 L728.6 505.5 L729.5 503.7 L730.5 502.0 L731.5 500.2 L732.4 498.5 L733.4 496.7 L734.4 495.0 L735.1 496.9 L735.7 498.8 L736.3 500.7 L736.9 502.6 L737.5 504.5 L738.0 506.5 L738.5 508.4 L739.0 510.3 L739.6 512.3 L740.1 514.2 L740.6 516.2 L741.1 518.1 L741.6 520.0 L742.2 522.0 L742.7 523.9 L743.2 525.8 L743.7 527.8 L744.3 529.7 L744.8 531.6 L745.3 533.6 L745.9 535.5 L746.4 537.4 L747.0 539.4 L747.5 541.3 L748.0 543.2 L748.5 545.2 L749.0 547.1 L749.4 549.1 L749.8 551.0 L750.2 553.0 L750.6 555.0 L751.0 556.9 L751.4 558.9 L751.8 560.9 L752.3 562.8 L752.7 564.8 L753.2 566.7 L753.7 568.7 L754.2 570.6 L754.7 572.5 L755.2 574.5 L755.7 576.4 L756.2 578.4 L756.8 580.3 L757.5 582.2 L758.1 584.1 L758.8 585.9 L759.6 587.8 L760.3 589.7 L761.1 591.5 L761.8 593.4 L762.6 595.2 L763.3 597.1 L764.1 598.9 L764.9 600.8 L765.7 602.6 L766.5 604.4 L767.4 606.2 L768.3 608.0 L769.2 609.8 L770.1 611.6 L771.0 613.4 L771.9 615.2 L772.9 617.0 L773.9 618.7 L774.9 620.4 L776.1 622.0 L777.3 623.6 L778.5 625.2 L779.7 626.8 L780.9 628.4 L782.2 629.9 L783.5 631.4 L784.9 632.9 L786.3 634.2 L787.9 635.5 L789.4 636.7 L791.0 637.9 L792.6 639.1 L794.3 640.3 L795.9 641.4 L797.7 642.4 L799.4 643.4 L801.2 644.2 L803.0 645.1 L804.8 645.9 L806.7 646.7 L808.5 647.5 L810.4 648.3 L812.2 649.0 L814.1 649.6 L816.0 650.1 L818.0 650.5 L820.0 650.8 L821.9 651.1 L823.9 651.4 L825.9 651.7 L827.9 652.0 L829.9 652.3 L831.9 652.6 L833.9 652.8 L835.8 653.0 L837.8 653.2 L839.8 653.4 L841.8 653.5 L843.8 653.7 L845.8 653.8 L847.8 653.9 L849.8 654.1 L851.8 654.2 L853.8 654.3 L855.8 654.5 L857.8 654.6 L859.8 654.7 L861.8 654.9 L863.9 655.0 L865.9 655.1 L867.9 655.2 L869.9 655.2 L871.9 655.3 L873.9 655.3 L875.9 655.4 L877.9 655.4 L879.9 655.4 L881.9 655.5 L883.9 655.5 L885.9 655.5 L887.9 655.6 L889.9 655.6 L891.9 655.6 L893.9 655.7 L895.9 655.7 L897.9 655.8 L899.9 655.8 L901.9 655.8 L903.9 655.9 L906.0 655.9 L908.0 655.9 L910.0 656.0 L912.0 656.0 L914.0 656.0 L916.0 656.1 L918.0 656.1 L920.0 656.1 L922.0 656.2 L923.0 656.2" stroke="#ff0000" stroke-width="5.0"/>
</g>
<line x1="281.4" y1="40.6" x2="255.8" y2="86.9" stroke="#000" stroke-width="3.3"/><path d="M248.9 99.3 L252.2 83.0 L255.8 86.9 L261.0 87.9 Z" fill="#000" stroke="#000" stroke-width="1.4" stroke-linejoin="round"/>
<line x1="379.6" y1="479.5" x2="328.7" y2="431.0" stroke="#000" stroke-width="3.3"/><path d="M318.5 421.2 L333.4 428.5 L328.7 431.0 L326.5 435.7 Z" fill="#000" stroke="#000" stroke-width="1.4" stroke-linejoin="round"/>
<line x1="357.5" y1="623.9" x2="301.4" y2="581.4" stroke="#000" stroke-width="3.3"/><path d="M290.2 572.8 L305.8 578.4 L301.4 581.4 L299.7 586.4 Z" fill="#000" stroke="#000" stroke-width="1.4" stroke-linejoin="round"/>
<line x1="492.0" y1="198.3" x2="513.2" y2="150.8" stroke="#000" stroke-width="3.3"/><path d="M519.0 137.8 L517.1 154.3 L513.2 150.8 L508.0 150.2 Z" fill="#000" stroke="#000" stroke-width="1.4" stroke-linejoin="round"/>
<line x1="597.9" y1="409.0" x2="552.0" y2="369.2" stroke="#000" stroke-width="3.3"/><path d="M541.3 360.0 L556.5 366.5 L552.0 369.2 L550.0 374.1 Z" fill="#000" stroke="#000" stroke-width="1.4" stroke-linejoin="round"/>
<line x1="711.0" y1="647.8" x2="653.7" y2="607.7" stroke="#000" stroke-width="3.3"/><path d="M642.1 599.6 L657.9 604.6 L653.7 607.7 L652.2 612.8 Z" fill="#000" stroke="#000" stroke-width="1.4" stroke-linejoin="round"/>
<line x1="745.8" y1="532.0" x2="782.0" y2="477.6" stroke="#000" stroke-width="3.3"/><path d="M789.8 465.8 L785.2 481.7 L782.0 477.6 L776.9 476.2 Z" fill="#000" stroke="#000" stroke-width="1.4" stroke-linejoin="round"/>
<line x1="769.3" y1="71.0" x2="814.9" y2="129.6" stroke="#000" stroke-width="3.3"/><path d="M823.6 140.7 L809.9 131.3 L814.9 129.6 L817.8 125.2 Z" fill="#000" stroke="#000" stroke-width="1.4" stroke-linejoin="round"/>
<g font-family="Liberation Serif" font-weight="bold" fill="#000">
<text transform="translate(111,669.1) scale(1,1.065)" font-size="40" text-anchor="end">0</text>
<text transform="translate(111,541.9) scale(1,1.065)" font-size="40" text-anchor="end">20</text>
<text transform="translate(111,414.7) scale(1,1.065)" font-size="40" text-anchor="end">40</text>
<text transform="translate(111,287.5) scale(1,1.065)" font-size="40" text-anchor="end">60</text>
<text transform="translate(111,160.3) scale(1,1.065)" font-size="40" text-anchor="end">80</text>
<text transform="translate(111,33.1) scale(1,1.065)" font-size="40" text-anchor="end">100</text>
<text transform="translate(131.5,708.8) scale(1,1.065)" font-size="40" text-anchor="middle">2</text>
<text transform="translate(329.2,708.8) scale(1,1.065)" font-size="40" text-anchor="middle">4</text>
<text transform="translate(527.0,708.8) scale(1,1.065)" font-size="40" text-anchor="middle">6</text>
<text transform="translate(724.8,708.8) scale(1,1.065)" font-size="40" text-anchor="middle">8</text>
<text transform="translate(922.5,708.8) scale(1,1.065)" font-size="40" text-anchor="middle">10</text>
<text x="551.8" y="760.2" font-size="46.5" text-anchor="middle">pH</text>
<text transform="translate(37.2,338.2) rotate(-90)" font-size="46.8" text-anchor="middle">Proportion of U(VI) species (%)</text>
</g>
</svg>
</body></html>
